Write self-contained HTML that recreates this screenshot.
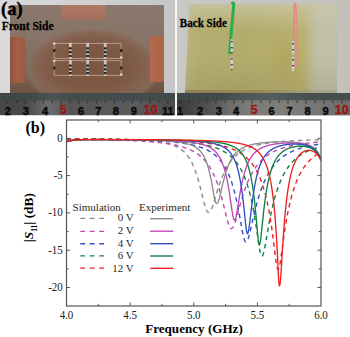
<!DOCTYPE html>
<html><head><meta charset="utf-8">
<style>
*{margin:0;padding:0;box-sizing:border-box}
html,body{width:350px;height:337px;overflow:hidden;background:#fff}
body{position:relative;font-family:"Liberation Serif",serif}
.abs{position:absolute}
.ph{position:absolute;overflow:hidden}
.rd{position:absolute;font-family:"Liberation Sans",sans-serif;font-weight:bold;font-size:11px;color:#0c0c0c;transform:translateX(-50%);line-height:1;-webkit-text-stroke:0.5px #0c0c0c}
.rd.r{color:#981616;-webkit-text-stroke:0.4px #981616}
</style></head>
<body>
<!-- LEFT PHOTO -->
<div class="ph" style="left:0;top:0;width:175px;height:116px;background:linear-gradient(90deg,#dadada 0%,#d2d2d2 40%,#c6c6c6 100%)">
  <div class="abs" style="left:9.5px;top:4.5px;width:154px;height:89.5px;background:radial-gradient(ellipse 70px 42px at 82px 62px,#7c5640 0%,#7e5842 50%,#846250 78%,rgba(140,116,100,0.6) 92%,rgba(130,114,104,0) 100%),linear-gradient(180deg,#8a786c 0%,#86746a 40%,#7a665a 70%,#6a5240 100%)"></div>
  <div class="abs" style="left:61px;top:5px;width:45px;height:15px;background:linear-gradient(180deg,#ae7866 0%,#aa7462 45%,#a46e5c 100%)"></div>
  <div class="abs" style="left:9.5px;top:37.2px;width:15.4px;height:46.3px;background:linear-gradient(90deg,#92523e 0%,#a05c44 30%,#a45e46 60%,#9c5a44 100%)"></div>
  <div class="abs" style="left:149.5px;top:36px;width:14.5px;height:45.5px;background:linear-gradient(90deg,#b06a50 0%,#b06848 40%,#aa6446 100%)"></div>
  <svg class="abs" style="left:0;top:0" width="175" height="116">
<g fill="none" stroke="#bca096" stroke-width="0.9">
<path d="M54.2 43.4H121.2"/>
<path d="M54.2 58.4H121.2"/>
<path d="M54.2 60.6H121.2"/>
<path d="M54.2 75.4H121.2"/>
<path d="M54.2 43.4V58.4"/>
<path d="M121.2 43.4V58.4"/>
<path d="M54.2 60.6V75.4"/>
<path d="M121.2 60.6V75.4"/>
</g>
<path d="M70.4 42.8V59.0" stroke="#cfc4c0" stroke-width="2.8" fill="none"/>
<path d="M70.4 42.8V59.0" stroke="#262626" stroke-width="2.8" fill="none" stroke-dasharray="0 4.5 2.2 1.6 2.2 1.6 2.2 20"/>
<path d="M87.7 42.8V59.0" stroke="#cfc4c0" stroke-width="2.8" fill="none"/>
<path d="M87.7 42.8V59.0" stroke="#262626" stroke-width="2.8" fill="none" stroke-dasharray="0 4.5 2.2 1.6 2.2 1.6 2.2 20"/>
<path d="M105.2 42.8V59.0" stroke="#cfc4c0" stroke-width="2.8" fill="none"/>
<path d="M105.2 42.8V59.0" stroke="#262626" stroke-width="2.8" fill="none" stroke-dasharray="0 4.5 2.2 1.6 2.2 1.6 2.2 20"/>
<path d="M70.4 60.0V76.0" stroke="#cfc4c0" stroke-width="2.8" fill="none"/>
<path d="M70.4 60.0V76.0" stroke="#262626" stroke-width="2.8" fill="none" stroke-dasharray="0 4.5 2.2 1.6 2.2 1.6 2.2 20"/>
<path d="M87.7 60.0V76.0" stroke="#cfc4c0" stroke-width="2.8" fill="none"/>
<path d="M87.7 60.0V76.0" stroke="#262626" stroke-width="2.8" fill="none" stroke-dasharray="0 4.5 2.2 1.6 2.2 1.6 2.2 20"/>
<path d="M105.2 60.0V76.0" stroke="#cfc4c0" stroke-width="2.8" fill="none"/>
<path d="M105.2 60.0V76.0" stroke="#262626" stroke-width="2.8" fill="none" stroke-dasharray="0 4.5 2.2 1.6 2.2 1.6 2.2 20"/>
<g fill="#262626">
<rect x="53.0" y="49.0" width="2.4" height="3" rx="0.6"/>
<rect x="53.0" y="66.5" width="2.4" height="3" rx="0.6"/>
<rect x="120.0" y="49.0" width="2.4" height="3" rx="0.6"/>
<rect x="120.0" y="66.5" width="2.4" height="3" rx="0.6"/>
</g><g fill="#e0dada">
<rect x="119.9" y="56.4" width="2.6" height="2" rx="0.6"/>
<rect x="119.9" y="73.6" width="2.6" height="2" rx="0.6"/>
<rect x="52.9" y="42.6" width="2.6" height="2" rx="0.6"/>
<rect x="52.9" y="59.8" width="2.6" height="2" rx="0.6"/>
</g></svg>
  <!-- ruler -->
  <div class="abs" style="left:0;top:93.4px;width:175px;height:6.8px;background:linear-gradient(90deg,#3a4244 0%,#3e4648 20%,#4a5254 30%,#42494b 40%,#404749 100%)"></div>
  <div class="abs" style="left:0;top:93.5px;width:175px;height:8.5px;background:repeating-linear-gradient(90deg,rgba(110,110,110,.18) 0 0.8px,rgba(0,0,0,0) 0.8px 1.78px)"></div>
  <div class="abs" style="left:0;top:100.2px;width:175px;height:15.3px;background:linear-gradient(90deg,#464646 0%,#4a4a4a 15%,#5e5e5e 22%,#6c6c6c 27%,#626262 33%,#565656 40%,#585858 55%,#5a5c5e 75%,#525252 90%,#4c4c4c 100%)"></div>
<svg class="abs" style="left:0;top:0" width="175" height="116"><path d="M0.58 100.2V101.4 M2.36 100.2V101.4 M4.14 100.2V101.4 M5.92 100.2V101.4 M9.48 100.2V101.4 M11.26 100.2V101.4 M13.04 100.2V101.4 M14.82 100.2V101.4 M18.38 100.2V101.4 M20.16 100.2V101.4 M21.94 100.2V101.4 M23.72 100.2V101.4 M27.28 100.2V101.4 M29.06 100.2V101.4 M30.84 100.2V101.4 M32.62 100.2V101.4 M36.18 100.2V101.4 M37.96 100.2V101.4 M39.74 100.2V101.4 M41.52 100.2V101.4 M45.08 100.2V101.4 M46.86 100.2V101.4 M48.64 100.2V101.4 M50.42 100.2V101.4 M53.98 100.2V101.4 M55.76 100.2V101.4 M57.54 100.2V101.4 M59.32 100.2V101.4 M62.88 100.2V101.4 M64.66 100.2V101.4 M66.44 100.2V101.4 M68.22 100.2V101.4 M71.78 100.2V101.4 M73.56 100.2V101.4 M75.34 100.2V101.4 M77.12 100.2V101.4 M80.68 100.2V101.4 M82.46 100.2V101.4 M84.24 100.2V101.4 M86.02 100.2V101.4 M89.58 100.2V101.4 M91.36 100.2V101.4 M93.14 100.2V101.4 M94.92 100.2V101.4 M98.48 100.2V101.4 M100.26 100.2V101.4 M102.04 100.2V101.4 M103.82 100.2V101.4 M107.38 100.2V101.4 M109.16 100.2V101.4 M110.94 100.2V101.4 M112.72 100.2V101.4 M116.28 100.2V101.4 M118.06 100.2V101.4 M119.84 100.2V101.4 M121.62 100.2V101.4 M125.18 100.2V101.4 M126.96 100.2V101.4 M128.74 100.2V101.4 M130.52 100.2V101.4 M134.08 100.2V101.4 M135.86 100.2V101.4 M137.64 100.2V101.4 M139.42 100.2V101.4 M142.98 100.2V101.4 M144.76 100.2V101.4 M146.54 100.2V101.4 M148.32 100.2V101.4 M151.88 100.2V101.4 M153.66 100.2V101.4 M155.44 100.2V101.4 M157.22 100.2V101.4 M160.78 100.2V101.4 M162.56 100.2V101.4 M164.34 100.2V101.4 M166.12 100.2V101.4 M169.68 100.2V101.4 M171.46 100.2V101.4 M173.24 100.2V101.4 M175.02 100.2V101.4" stroke="rgba(40,40,40,.35)" stroke-width="0.6"/><path d="M7.70 100.2V103.6 M16.60 100.2V103 M25.50 100.2V103.6 M34.40 100.2V103 M43.30 100.2V103.6 M52.20 100.2V103 M61.10 100.2V103.6 M70.00 100.2V103 M78.90 100.2V103.6 M87.80 100.2V103 M96.70 100.2V103.6 M105.60 100.2V103 M114.50 100.2V103.6 M123.40 100.2V103 M132.30 100.2V103.6 M141.20 100.2V103 M150.10 100.2V103.6 M159.00 100.2V103 M167.90 100.2V103.6" stroke="#2a2a2a" stroke-width="0.9"/></svg>
  <div class="rd" style="left:7.7px;top:105.7px">2</div>
  <div class="rd" style="left:25.7px;top:105.7px">3</div>
  <div class="rd" style="left:45px;top:105.7px">4</div>
  <div class="rd r" style="left:63px;top:104.1px;font-size:12.5px">5</div>
  <div class="rd" style="left:81px;top:105.7px">6</div>
  <div class="rd" style="left:98.4px;top:105.7px">7</div>
  <div class="rd" style="left:115.8px;top:105.7px">8</div>
  <div class="rd" style="left:133.8px;top:105.7px">9</div>
  <div class="rd r" style="left:150.5px;top:104.1px;font-size:12.5px">10</div>
  <div class="rd" style="left:167.8px;top:105.7px">11</div>
  <div class="abs" style="left:1.0px;top:0px;font-weight:bold;font-size:18.5px;line-height:1;color:#000;-webkit-text-stroke:0.45px #000">(a)</div>
  <div class="abs" style="left:1.7px;top:20.6px;font-weight:bold;font-size:11.5px;line-height:1;color:#000;-webkit-text-stroke:0.25px #000;transform:scaleY(1.1);transform-origin:0 10.25px">Front Side</div>
</div>
<div class="abs" style="left:175px;top:0;width:2px;height:116px;background:#f4f4f4"></div>
<!-- RIGHT PHOTO -->
<div class="ph" style="left:177px;top:0;width:173px;height:116px;background:linear-gradient(90deg,#c8c8c4 0%,#c4c4c0 50%,#c4c0bc 100%)">
  <div class="abs" style="left:8px;top:3.5px;width:152px;height:88.5px;clip-path:polygon(4.5px 0,100% 0.5px,100% 100%,0 100%);background:linear-gradient(180deg,rgba(204,200,172,.75) 0%,rgba(204,200,172,.35) 15%,rgba(204,200,172,0) 30%,rgba(0,0,0,0) 60%,rgba(50,40,10,.10) 100%),radial-gradient(ellipse 22px 30px at 100px 56px,rgba(176,164,92,.8) 0%,rgba(176,164,92,0) 100%),linear-gradient(90deg,#bcb47e 0%,#b4ae70 8%,#b2ac6c 40%,#b6ae6e 55%,#bab270 78%,#bebca0 85%,#c2c0a8 90%,#c0bea8 100%)"></div>
  <div class="abs" style="left:8px;top:90px;width:152px;height:3.5px;background:linear-gradient(90deg,#8c8050,#968a58 50%,#a8a488 90%)"></div>
  <svg class="abs" style="left:0;top:0" width="173" height="116">
    <path d="M55.4 3.2 C56.6 2.6 57.2 3.6 56.6 6 C55.6 18 54 34 52.6 53" stroke="#2eae48" stroke-width="3" fill="none" stroke-linecap="round"/>
    <path d="M117.6 3.5 C117 18 116.6 32 116.6 44" stroke="#e48686" stroke-width="1.5" fill="none" stroke-linecap="round"/>
    <path d="M118.6 3.5 C119.6 18 120 36 119.6 54 C119.4 60 119.3 64 119.2 67" stroke="#e88a8a" stroke-width="1.6" fill="none" stroke-linecap="round"/>
    <g fill="#cfcfc8">
      <rect x="53.6" y="39" width="2.4" height="14.5" rx="1"/><rect x="53.6" y="57" width="2.4" height="13.2" rx="1"/>
      <rect x="114.8" y="41" width="2.4" height="13.6" rx="1"/><rect x="114.8" y="57" width="2.4" height="14.3" rx="1"/>
    </g>
    <g fill="#484844">
      <rect x="53.8" y="41" width="2" height="1.4"/><rect x="53.8" y="47" width="2" height="1.4"/><rect x="53.8" y="52" width="2" height="1.4"/>
      <rect x="53.8" y="58" width="2" height="1.4"/><rect x="53.8" y="64" width="2" height="1.4"/><rect x="53.8" y="69" width="2" height="1.2"/>
      <rect x="115" y="43" width="2" height="1.4"/><rect x="115" y="49" width="2" height="1.4"/>
      <rect x="115" y="59" width="2" height="1.4"/><rect x="115" y="65" width="2" height="1.4"/>
    </g>
  </svg>
  <div class="abs" style="left:0;top:93.4px;width:173px;height:6.8px;background:linear-gradient(90deg,#3a4244 0%,#40474a 25%,#4e5557 40%,#525a5a 55%,#464d4f 75%,#42494b 100%)"></div>
  <div class="abs" style="left:0;top:93.5px;width:173px;height:8.5px;background:repeating-linear-gradient(90deg,rgba(110,110,110,.18) 0 0.8px,rgba(0,0,0,0) 0.8px 1.8px)"></div>
  <div class="abs" style="left:0;top:100.2px;width:173px;height:15.3px;background:linear-gradient(90deg,#3e3e3e 0%,#444444 8%,#545454 20%,#6c6c6a 30%,#7a7a78 40%,#807e7a 55%,#7a7a78 72%,#727270 88%,#6c6c6a 100%)"></div>
<svg class="abs" style="left:0;top:0" width="173" height="116"><path d="M-0.60 100.2V101.4 M1.20 100.2V101.4 M4.80 100.2V101.4 M6.60 100.2V101.4 M8.40 100.2V101.4 M10.20 100.2V101.4 M13.80 100.2V101.4 M15.60 100.2V101.4 M17.40 100.2V101.4 M19.20 100.2V101.4 M22.80 100.2V101.4 M24.60 100.2V101.4 M26.40 100.2V101.4 M28.20 100.2V101.4 M31.80 100.2V101.4 M33.60 100.2V101.4 M35.40 100.2V101.4 M37.20 100.2V101.4 M40.80 100.2V101.4 M42.60 100.2V101.4 M44.40 100.2V101.4 M46.20 100.2V101.4 M49.80 100.2V101.4 M51.60 100.2V101.4 M53.40 100.2V101.4 M55.20 100.2V101.4 M58.80 100.2V101.4 M60.60 100.2V101.4 M62.40 100.2V101.4 M64.20 100.2V101.4 M67.80 100.2V101.4 M69.60 100.2V101.4 M71.40 100.2V101.4 M73.20 100.2V101.4 M76.80 100.2V101.4 M78.60 100.2V101.4 M80.40 100.2V101.4 M82.20 100.2V101.4 M85.80 100.2V101.4 M87.60 100.2V101.4 M89.40 100.2V101.4 M91.20 100.2V101.4 M94.80 100.2V101.4 M96.60 100.2V101.4 M98.40 100.2V101.4 M100.20 100.2V101.4 M103.80 100.2V101.4 M105.60 100.2V101.4 M107.40 100.2V101.4 M109.20 100.2V101.4 M112.80 100.2V101.4 M114.60 100.2V101.4 M116.40 100.2V101.4 M118.20 100.2V101.4 M121.80 100.2V101.4 M123.60 100.2V101.4 M125.40 100.2V101.4 M127.20 100.2V101.4 M130.80 100.2V101.4 M132.60 100.2V101.4 M134.40 100.2V101.4 M136.20 100.2V101.4 M139.80 100.2V101.4 M141.60 100.2V101.4 M143.40 100.2V101.4 M145.20 100.2V101.4 M148.80 100.2V101.4 M150.60 100.2V101.4 M152.40 100.2V101.4 M154.20 100.2V101.4 M157.80 100.2V101.4 M159.60 100.2V101.4 M161.40 100.2V101.4 M163.20 100.2V101.4 M166.80 100.2V101.4 M168.60 100.2V101.4 M170.40 100.2V101.4 M172.20 100.2V101.4" stroke="rgba(40,40,40,.35)" stroke-width="0.6"/><path d="M3.00 100.2V103.6 M12.00 100.2V103 M21.00 100.2V103.6 M30.00 100.2V103 M39.00 100.2V103.6 M48.00 100.2V103 M57.00 100.2V103.6 M66.00 100.2V103 M75.00 100.2V103.6 M84.00 100.2V103 M93.00 100.2V103.6 M102.00 100.2V103 M111.00 100.2V103.6 M120.00 100.2V103 M129.00 100.2V103.6 M138.00 100.2V103 M147.00 100.2V103.6 M156.00 100.2V103 M165.00 100.2V103.6 M174.00 100.2V103" stroke="#2a2a2a" stroke-width="0.9"/></svg>
  <div class="rd" style="left:3px;top:105.7px">1</div>
  <div class="rd" style="left:23px;top:105.7px">2</div>
  <div class="rd" style="left:41.7px;top:105.7px">3</div>
  <div class="rd" style="left:59px;top:105.7px">4</div>
  <div class="rd r" style="left:77px;top:104.1px;font-size:12.5px">5</div>
  <div class="rd" style="left:94.6px;top:105.7px">6</div>
  <div class="rd" style="left:112.6px;top:105.7px">7</div>
  <div class="rd" style="left:130.6px;top:105.7px">8</div>
  <div class="rd" style="left:148.5px;top:105.7px">9</div>
  <div class="rd r" style="left:164.7px;top:104.1px;font-size:12.5px">10</div>
  <div class="abs" style="left:2.8px;top:18.4px;font-weight:bold;font-size:11.1px;line-height:1;color:#000;-webkit-text-stroke:0.25px #000;transform:scaleY(1.1);transform-origin:0 9.9px">Back Side</div>
</div>
<div class="abs" style="left:0;top:115.5px;width:350px;height:1px;background:#fff"></div>
<!-- CHART -->
<svg class="abs" style="left:0;top:0" width="350" height="337" viewBox="0 0 350 337">
<g font-family="Liberation Serif" fill="#000">
  <text x="25.5" y="132.7" font-size="16" font-weight="bold">(b)</text>
</g>
<g clip-path="url(#clip)">
<path d="M66.50 138.67 L66.82 138.68 L67.14 138.68 L67.45 138.68 L67.77 138.68 L68.09 138.68 L68.41 138.69 L68.73 138.69 L69.04 138.69 L69.36 138.69 L69.68 138.69 L70.00 138.70 L70.32 138.70 L70.64 138.70 L70.95 138.70 L71.27 138.70 L71.59 138.71 L71.91 138.71 L72.23 138.71 L72.54 138.71 L72.86 138.71 L73.18 138.72 L73.50 138.72 L73.82 138.72 L74.13 138.72 L74.45 138.73 L74.77 138.73 L75.09 138.73 L75.41 138.73 L75.73 138.73 L76.04 138.74 L76.36 138.74 L76.68 138.74 L77.00 138.74 L77.32 138.75 L77.63 138.75 L77.95 138.75 L78.27 138.75 L78.59 138.76 L78.91 138.76 L79.22 138.76 L79.54 138.76 L79.86 138.77 L80.18 138.77 L80.50 138.77 L80.82 138.77 L81.13 138.78 L81.45 138.78 L81.77 138.78 L82.09 138.78 L82.41 138.79 L82.72 138.79 L83.04 138.79 L83.36 138.79 L83.68 138.80 L84.00 138.80 L84.31 138.80 L84.63 138.80 L84.95 138.81 L85.27 138.81 L85.59 138.81 L85.91 138.82 L86.22 138.82 L86.54 138.82 L86.86 138.83 L87.18 138.83 L87.50 138.83 L87.81 138.83 L88.13 138.84 L88.45 138.84 L88.77 138.84 L89.09 138.85 L89.40 138.85 L89.72 138.85 L90.04 138.86 L90.36 138.86 L90.68 138.86 L91.00 138.87 L91.31 138.87 L91.63 138.87 L91.95 138.88 L92.27 138.88 L92.59 138.88 L92.90 138.89 L93.22 138.89 L93.54 138.89 L93.86 138.90 L94.18 138.90 L94.49 138.90 L94.81 138.91 L95.13 138.91 L95.45 138.92 L95.77 138.92 L96.09 138.92 L96.40 138.93 L96.72 138.93 L97.04 138.94 L97.36 138.94 L97.68 138.94 L97.99 138.95 L98.31 138.95 L98.63 138.96 L98.95 138.96 L99.27 138.96 L99.58 138.97 L99.90 138.97 L100.22 138.98 L100.54 138.98 L100.86 138.99 L101.18 138.99 L101.49 138.99 L101.81 139.00 L102.13 139.00 L102.45 139.01 L102.77 139.01 L103.08 139.02 L103.40 139.02 L103.72 139.03 L104.04 139.03 L104.36 139.04 L104.67 139.04 L104.99 139.05 L105.31 139.05 L105.63 139.06 L105.95 139.06 L106.27 139.07 L106.58 139.07 L106.90 139.08 L107.22 139.08 L107.54 139.09 L107.86 139.09 L108.17 139.10 L108.49 139.10 L108.81 139.11 L109.13 139.11 L109.45 139.12 L109.76 139.13 L110.08 139.13 L110.40 139.14 L110.72 139.14 L111.04 139.15 L111.36 139.16 L111.67 139.16 L111.99 139.17 L112.31 139.17 L112.63 139.18 L112.95 139.19 L113.26 139.19 L113.58 139.20 L113.90 139.21 L114.22 139.21 L114.54 139.22 L114.85 139.23 L115.17 139.23 L115.49 139.24 L115.81 139.25 L116.13 139.25 L116.45 139.26 L116.76 139.27 L117.08 139.28 L117.40 139.28 L117.72 139.29 L118.04 139.30 L118.35 139.31 L118.67 139.31 L118.99 139.32 L119.31 139.33 L119.63 139.34 L119.94 139.34 L120.26 139.35 L120.58 139.36 L120.90 139.37 L121.22 139.38 L121.54 139.39 L121.85 139.39 L122.17 139.40 L122.49 139.41 L122.81 139.42 L123.13 139.43 L123.44 139.44 L123.76 139.45 L124.08 139.46 L124.40 139.47 L124.72 139.48 L125.03 139.49 L125.35 139.50 L125.67 139.51 L125.99 139.52 L126.31 139.53 L126.63 139.54 L126.94 139.55 L127.26 139.56 L127.58 139.57 L127.90 139.58 L128.22 139.59 L128.53 139.60 L128.85 139.61 L129.17 139.62 L129.49 139.63 L129.81 139.65 L130.12 139.66 L130.44 139.67 L130.76 139.68 L131.08 139.69 L131.40 139.71 L131.72 139.72 L132.03 139.73 L132.35 139.74 L132.67 139.76 L132.99 139.77 L133.31 139.78 L133.62 139.80 L133.94 139.81 L134.26 139.82 L134.58 139.84 L134.90 139.85 L135.22 139.87 L135.53 139.88 L135.85 139.90 L136.17 139.91 L136.49 139.93 L136.81 139.94 L137.12 139.96 L137.44 139.97 L137.76 139.99 L138.08 140.01 L138.40 140.02 L138.71 140.04 L139.03 140.06 L139.35 140.07 L139.67 140.09 L139.99 140.11 L140.31 140.13 L140.62 140.14 L140.94 140.16 L141.26 140.18 L141.58 140.20 L141.90 140.22 L142.21 140.24 L142.53 140.26 L142.85 140.28 L143.17 140.30 L143.49 140.32 L143.80 140.34 L144.12 140.36 L144.44 140.38 L144.76 140.41 L145.08 140.43 L145.40 140.45 L145.71 140.48 L146.03 140.50 L146.35 140.52 L146.67 140.55 L146.99 140.57 L147.30 140.60 L147.62 140.62 L147.94 140.65 L148.26 140.67 L148.58 140.70 L148.89 140.73 L149.21 140.75 L149.53 140.78 L149.85 140.81 L150.17 140.84 L150.49 140.87 L150.80 140.90 L151.12 140.93 L151.44 140.96 L151.76 140.99 L152.08 141.02 L152.39 141.05 L152.71 141.09 L153.03 141.12 L153.35 141.15 L153.67 141.19 L153.98 141.22 L154.30 141.26 L154.62 141.29 L154.94 141.33 L155.26 141.37 L155.58 141.41 L155.89 141.45 L156.21 141.49 L156.53 141.53 L156.85 141.57 L157.17 141.61 L157.48 141.65 L157.80 141.70 L158.12 141.74 L158.44 141.79 L158.76 141.83 L159.07 141.88 L159.39 141.93 L159.71 141.97 L160.03 142.02 L160.35 142.07 L160.67 142.13 L160.98 142.18 L161.30 142.23 L161.62 142.29 L161.94 142.34 L162.26 142.40 L162.57 142.46 L162.89 142.51 L163.21 142.57 L163.53 142.64 L163.85 142.70 L164.16 142.76 L164.48 142.83 L164.80 142.89 L165.12 142.96 L165.44 143.03 L165.76 143.10 L166.07 143.17 L166.39 143.25 L166.71 143.32 L167.03 143.40 L167.35 143.48 L167.66 143.56 L167.98 143.64 L168.30 143.73 L168.62 143.81 L168.94 143.90 L169.25 143.99 L169.57 144.08 L169.89 144.17 L170.21 144.27 L170.53 144.37 L170.85 144.47 L171.16 144.57 L171.48 144.68 L171.80 144.78 L172.12 144.89 L172.44 145.01 L172.75 145.12 L173.07 145.24 L173.39 145.36 L173.71 145.49 L174.03 145.61 L174.34 145.74 L174.66 145.88 L174.98 146.01 L175.30 146.15 L175.62 146.30 L175.94 146.44 L176.25 146.60 L176.57 146.75 L176.89 146.91 L177.21 147.07 L177.53 147.24 L177.84 147.41 L178.16 147.59 L178.48 147.77 L178.80 147.95 L179.12 148.14 L179.43 148.34 L179.75 148.54 L180.07 148.75 L180.39 148.96 L180.71 149.18 L181.03 149.40 L181.34 149.63 L181.66 149.87 L181.98 150.11 L182.30 150.36 L182.62 150.62 L182.93 150.89 L183.25 151.16 L183.57 151.44 L183.89 151.73 L184.21 152.02 L184.52 152.33 L184.84 152.65 L185.16 152.97 L185.48 153.30 L185.80 153.65 L186.11 154.00 L186.43 154.37 L186.75 154.74 L187.07 155.13 L187.39 155.53 L187.71 155.94 L188.02 156.36 L188.34 156.80 L188.66 157.25 L188.98 157.72 L189.30 158.19 L189.61 158.69 L189.93 159.20 L190.25 159.72 L190.57 160.26 L190.89 160.82 L191.21 161.40 L191.52 161.99 L191.84 162.61 L192.16 163.24 L192.48 163.89 L192.80 164.56 L193.11 165.26 L193.43 165.97 L193.75 166.71 L194.07 167.47 L194.39 168.25 L194.70 169.06 L195.02 169.89 L195.34 170.74 L195.66 171.62 L195.98 172.53 L196.29 173.46 L196.61 174.43 L196.93 175.41 L197.25 176.43 L197.57 177.47 L197.89 178.54 L198.20 179.63 L198.52 180.75 L198.84 181.90 L199.16 183.08 L199.48 184.28 L199.79 185.50 L200.11 186.74 L200.43 188.01 L200.75 189.29 L201.07 190.59 L201.39 191.91 L201.70 193.23 L202.02 194.56 L202.34 195.89 L202.66 197.21 L202.98 198.53 L203.29 199.83 L203.61 201.10 L203.93 202.35 L204.25 203.56 L204.57 204.72 L204.88 205.83 L205.20 206.87 L205.52 207.85 L205.84 208.74 L206.16 209.54 L206.47 210.25 L206.79 210.86 L207.11 211.37 L207.43 211.77 L207.75 212.07 L208.07 212.26 L208.38 212.36 L208.70 212.38 L209.02 212.31 L209.34 212.16 L209.66 211.91 L209.97 211.58 L210.29 211.17 L210.61 210.68 L210.93 210.11 L211.25 209.47 L211.56 208.77 L211.88 208.01 L212.20 207.20 L212.52 206.34 L212.84 205.44 L213.16 204.50 L213.47 203.53 L213.79 202.53 L214.11 201.52 L214.43 200.49 L214.75 199.44 L215.06 198.39 L215.38 197.33 L215.70 196.27 L216.02 195.21 L216.34 194.16 L216.65 193.11 L216.97 192.06 L217.29 191.03 L217.61 190.01 L217.93 189.00 L218.25 188.00 L218.56 187.02 L218.88 186.05 L219.20 185.10 L219.52 184.16 L219.84 183.24 L220.15 182.33 L220.47 181.45 L220.79 180.58 L221.11 179.73 L221.43 178.89 L221.74 178.08 L222.06 177.28 L222.38 176.49 L222.70 175.73 L223.02 174.98 L223.34 174.25 L223.65 173.53 L223.97 172.83 L224.29 172.15 L224.61 171.48 L224.93 170.83 L225.24 170.19 L225.56 169.57 L225.88 168.96 L226.20 168.37 L226.52 167.79 L226.83 167.22 L227.15 166.67 L227.47 166.13 L227.79 165.60 L228.11 165.08 L228.43 164.58 L228.74 164.09 L229.06 163.61 L229.38 163.14 L229.70 162.68 L230.02 162.24 L230.33 161.80 L230.65 161.38 L230.97 160.96 L231.29 160.55 L231.61 160.16 L231.92 159.77 L232.24 159.39 L232.56 159.02 L232.88 158.66 L233.20 158.30 L233.52 157.96 L233.83 157.62 L234.15 157.29 L234.47 156.97 L234.79 156.65 L235.11 156.35 L235.42 156.04 L235.74 155.75 L236.06 155.46 L236.38 155.18 L236.70 154.91 L237.01 154.64 L237.33 154.37 L237.65 154.11 L237.97 153.86 L238.29 153.62 L238.61 153.37 L238.92 153.14 L239.24 152.91 L239.56 152.68 L239.88 152.46 L240.20 152.24 L240.51 152.03 L240.83 151.82 L241.15 151.62 L241.47 151.42 L241.79 151.22 L242.10 151.03 L242.42 150.85 L242.74 150.66 L243.06 150.48 L243.38 150.31 L243.70 150.13 L244.01 149.96 L244.33 149.80 L244.65 149.64 L244.97 149.48 L245.29 149.32 L245.60 149.17 L245.92 149.02 L246.24 148.87 L246.56 148.72 L246.88 148.58 L247.19 148.44 L247.51 148.31 L247.83 148.17 L248.15 148.04 L248.47 147.91 L248.79 147.79 L249.10 147.66 L249.42 147.54 L249.74 147.42 L250.06 147.30 L250.38 147.19 L250.69 147.08 L251.01 146.96 L251.33 146.85 L251.65 146.75 L251.97 146.64 L252.28 146.54 L252.60 146.44 L252.92 146.34 L253.24 146.24 L253.56 146.14 L253.88 146.05 L254.19 145.95 L254.51 145.86 L254.83 145.77 L255.15 145.68 L255.47 145.60 L255.78 145.51 L256.10 145.43 L256.42 145.35 L256.74 145.26 L257.06 145.18 L257.38 145.11 L257.69 145.03 L258.01 144.95 L258.33 144.88 L258.65 144.80 L258.97 144.73 L259.28 144.66 L259.60 144.59 L259.92 144.52 L260.24 144.45 L260.56 144.39 L260.87 144.32 L261.19 144.25 L261.51 144.19 L261.83 144.13 L262.15 144.07 L262.47 144.01 L262.78 143.95 L263.10 143.89 L263.42 143.83 L263.74 143.77 L264.06 143.71 L264.37 143.66 L264.69 143.60 L265.01 143.55 L265.33 143.50 L265.65 143.44 L265.96 143.39 L266.28 143.34 L266.60 143.29 L266.92 143.24 L267.24 143.19 L267.56 143.14 L267.87 143.10 L268.19 143.05 L268.51 143.00 L268.83 142.96 L269.15 142.91 L269.46 142.87 L269.78 142.83 L270.10 142.78 L270.42 142.74 L270.74 142.70 L271.05 142.66 L271.37 142.62 L271.69 142.58 L272.01 142.54 L272.33 142.50 L272.64 142.46 L272.96 142.42 L273.28 142.39 L273.60 142.35 L273.92 142.31 L274.24 142.28 L274.55 142.24 L274.87 142.21 L275.19 142.17 L275.51 142.14 L275.83 142.10 L276.14 142.07 L276.46 142.04 L276.78 142.00 L277.10 141.97 L277.42 141.94 L277.74 141.91 L278.05 141.88 L278.37 141.85 L278.69 141.82 L279.01 141.79 L279.33 141.76 L279.64 141.73 L279.96 141.70 L280.28 141.67 L280.60 141.65 L280.92 141.62 L281.23 141.59 L281.55 141.56 L281.87 141.54 L282.19 141.51 L282.51 141.48 L282.83 141.46 L283.14 141.43 L283.46 141.41 L283.78 141.38 L284.10 141.36 L284.42 141.34 L284.73 141.31 L285.05 141.29 L285.37 141.26 L285.69 141.24 L286.01 141.22 L286.32 141.20 L286.64 141.17 L286.96 141.15 L287.28 141.13 L287.60 141.11 L287.92 141.09 L288.23 141.07 L288.55 141.04 L288.87 141.02 L289.19 141.00 L289.51 140.98 L289.82 140.96 L290.14 140.94 L290.46 140.92 L290.78 140.91 L291.10 140.89 L291.41 140.87 L291.73 140.85 L292.05 140.83 L292.37 140.81 L292.69 140.79 L293.00 140.78 L293.32 140.76 L293.64 140.74 L293.96 140.72 L294.28 140.71 L294.60 140.69 L294.91 140.67 L295.23 140.66 L295.55 140.64 L295.87 140.62 L296.19 140.61 L296.50 140.59 L296.82 140.57 L297.14 140.56 L297.46 140.54 L297.78 140.53 L298.10 140.51 L298.41 140.50 L298.73 140.48 L299.05 140.47 L299.37 140.45 L299.69 140.44 L300.00 140.43 L300.32 140.41 L300.64 140.40 L300.96 140.38 L301.28 140.37 L301.59 140.36 L301.91 140.34 L302.23 140.33 L302.55 140.32 L302.87 140.30 L303.19 140.29 L303.50 140.28 L303.82 140.26 L304.14 140.25 L304.46 140.24 L304.78 140.23 L305.09 140.21 L305.41 140.20 L305.73 140.19 L306.05 140.18 L306.37 140.17 L306.68 140.16 L307.00 140.14 L307.32 140.13 L307.64 140.12 L307.96 140.11 L308.28 140.10 L308.59 140.09 L308.91 140.08 L309.23 140.07 L309.55 140.05 L309.87 140.04 L310.18 140.03 L310.50 140.02 L310.82 140.01 L311.14 140.00 L311.46 139.99 L311.77 139.98 L312.09 139.97 L312.41 139.96 L312.73 139.95 L313.05 139.94 L313.36 139.93 L313.68 139.92 L314.00 139.91 L314.32 139.90 L314.64 139.90 L314.96 139.89 L315.27 139.88 L315.59 139.87 L315.91 139.86 L316.23 139.85 L316.55 139.84 L316.86 139.83 L317.18 139.82 L317.50 139.81 L317.82 139.81 L318.14 139.80 L318.46 139.79 L318.77 139.78 L319.09 139.77 L319.41 139.76 L319.73 139.76 L320.05 139.75 L320.36 139.74 L320.68 139.73 L321.00 139.72" fill="none" stroke="#8c8c8c" stroke-width="1.4" stroke-dasharray="4.5 3.8"/>
<path d="M66.50 139.16 L66.82 139.17 L67.14 139.17 L67.45 139.17 L67.77 139.18 L68.09 139.18 L68.41 139.18 L68.73 139.19 L69.04 139.19 L69.36 139.19 L69.68 139.20 L70.00 139.20 L70.32 139.21 L70.64 139.21 L70.95 139.21 L71.27 139.22 L71.59 139.22 L71.91 139.22 L72.23 139.23 L72.54 139.23 L72.86 139.23 L73.18 139.24 L73.50 139.24 L73.82 139.25 L74.13 139.25 L74.45 139.25 L74.77 139.26 L75.09 139.26 L75.41 139.26 L75.73 139.27 L76.04 139.27 L76.36 139.28 L76.68 139.28 L77.00 139.28 L77.32 139.29 L77.63 139.29 L77.95 139.30 L78.27 139.30 L78.59 139.30 L78.91 139.31 L79.22 139.31 L79.54 139.32 L79.86 139.32 L80.18 139.32 L80.50 139.33 L80.82 139.33 L81.13 139.34 L81.45 139.34 L81.77 139.35 L82.09 139.35 L82.41 139.36 L82.72 139.36 L83.04 139.36 L83.36 139.37 L83.68 139.37 L84.00 139.38 L84.31 139.38 L84.63 139.39 L84.95 139.39 L85.27 139.40 L85.59 139.40 L85.91 139.41 L86.22 139.41 L86.54 139.42 L86.86 139.42 L87.18 139.42 L87.50 139.43 L87.81 139.43 L88.13 139.44 L88.45 139.44 L88.77 139.45 L89.09 139.45 L89.40 139.46 L89.72 139.46 L90.04 139.47 L90.36 139.48 L90.68 139.48 L91.00 139.49 L91.31 139.49 L91.63 139.50 L91.95 139.50 L92.27 139.51 L92.59 139.51 L92.90 139.52 L93.22 139.52 L93.54 139.53 L93.86 139.53 L94.18 139.54 L94.49 139.55 L94.81 139.55 L95.13 139.56 L95.45 139.56 L95.77 139.57 L96.09 139.57 L96.40 139.58 L96.72 139.59 L97.04 139.59 L97.36 139.60 L97.68 139.60 L97.99 139.61 L98.31 139.62 L98.63 139.62 L98.95 139.63 L99.27 139.64 L99.58 139.64 L99.90 139.65 L100.22 139.65 L100.54 139.66 L100.86 139.67 L101.18 139.67 L101.49 139.68 L101.81 139.69 L102.13 139.69 L102.45 139.70 L102.77 139.71 L103.08 139.71 L103.40 139.72 L103.72 139.73 L104.04 139.73 L104.36 139.74 L104.67 139.75 L104.99 139.76 L105.31 139.76 L105.63 139.77 L105.95 139.78 L106.27 139.79 L106.58 139.79 L106.90 139.80 L107.22 139.81 L107.54 139.81 L107.86 139.82 L108.17 139.83 L108.49 139.84 L108.81 139.85 L109.13 139.85 L109.45 139.86 L109.76 139.87 L110.08 139.88 L110.40 139.89 L110.72 139.89 L111.04 139.90 L111.36 139.91 L111.67 139.92 L111.99 139.93 L112.31 139.94 L112.63 139.94 L112.95 139.95 L113.26 139.96 L113.58 139.97 L113.90 139.98 L114.22 139.99 L114.54 140.00 L114.85 140.01 L115.17 140.01 L115.49 140.02 L115.81 140.03 L116.13 140.04 L116.45 140.05 L116.76 140.06 L117.08 140.07 L117.40 140.08 L117.72 140.09 L118.04 140.10 L118.35 140.11 L118.67 140.12 L118.99 140.13 L119.31 140.14 L119.63 140.15 L119.94 140.16 L120.26 140.17 L120.58 140.18 L120.90 140.19 L121.22 140.20 L121.54 140.21 L121.85 140.22 L122.17 140.23 L122.49 140.25 L122.81 140.26 L123.13 140.27 L123.44 140.28 L123.76 140.29 L124.08 140.30 L124.40 140.31 L124.72 140.32 L125.03 140.34 L125.35 140.35 L125.67 140.36 L125.99 140.37 L126.31 140.38 L126.63 140.40 L126.94 140.41 L127.26 140.42 L127.58 140.43 L127.90 140.45 L128.22 140.46 L128.53 140.47 L128.85 140.48 L129.17 140.50 L129.49 140.51 L129.81 140.52 L130.12 140.54 L130.44 140.55 L130.76 140.57 L131.08 140.58 L131.40 140.59 L131.72 140.61 L132.03 140.62 L132.35 140.64 L132.67 140.65 L132.99 140.66 L133.31 140.68 L133.62 140.69 L133.94 140.71 L134.26 140.72 L134.58 140.74 L134.90 140.76 L135.22 140.77 L135.53 140.79 L135.85 140.80 L136.17 140.82 L136.49 140.84 L136.81 140.85 L137.12 140.87 L137.44 140.88 L137.76 140.90 L138.08 140.92 L138.40 140.94 L138.71 140.95 L139.03 140.97 L139.35 140.99 L139.67 141.01 L139.99 141.02 L140.31 141.04 L140.62 141.06 L140.94 141.08 L141.26 141.10 L141.58 141.12 L141.90 141.14 L142.21 141.16 L142.53 141.17 L142.85 141.19 L143.17 141.21 L143.49 141.23 L143.80 141.25 L144.12 141.28 L144.44 141.30 L144.76 141.32 L145.08 141.34 L145.40 141.36 L145.71 141.38 L146.03 141.40 L146.35 141.42 L146.67 141.45 L146.99 141.47 L147.30 141.49 L147.62 141.52 L147.94 141.54 L148.26 141.56 L148.58 141.59 L148.89 141.61 L149.21 141.63 L149.53 141.66 L149.85 141.68 L150.17 141.71 L150.49 141.73 L150.80 141.76 L151.12 141.79 L151.44 141.81 L151.76 141.84 L152.08 141.86 L152.39 141.89 L152.71 141.92 L153.03 141.95 L153.35 141.97 L153.67 142.00 L153.98 142.03 L154.30 142.06 L154.62 142.09 L154.94 142.12 L155.26 142.15 L155.58 142.18 L155.89 142.21 L156.21 142.24 L156.53 142.27 L156.85 142.30 L157.17 142.34 L157.48 142.37 L157.80 142.40 L158.12 142.44 L158.44 142.47 L158.76 142.50 L159.07 142.54 L159.39 142.57 L159.71 142.61 L160.03 142.64 L160.35 142.68 L160.67 142.72 L160.98 142.75 L161.30 142.79 L161.62 142.83 L161.94 142.87 L162.26 142.91 L162.57 142.95 L162.89 142.99 L163.21 143.03 L163.53 143.07 L163.85 143.11 L164.16 143.15 L164.48 143.19 L164.80 143.24 L165.12 143.28 L165.44 143.32 L165.76 143.37 L166.07 143.41 L166.39 143.46 L166.71 143.51 L167.03 143.55 L167.35 143.60 L167.66 143.65 L167.98 143.70 L168.30 143.75 L168.62 143.80 L168.94 143.85 L169.25 143.90 L169.57 143.95 L169.89 144.01 L170.21 144.06 L170.53 144.12 L170.85 144.17 L171.16 144.23 L171.48 144.28 L171.80 144.34 L172.12 144.40 L172.44 144.46 L172.75 144.52 L173.07 144.58 L173.39 144.64 L173.71 144.71 L174.03 144.77 L174.34 144.83 L174.66 144.90 L174.98 144.97 L175.30 145.03 L175.62 145.10 L175.94 145.17 L176.25 145.24 L176.57 145.31 L176.89 145.39 L177.21 145.46 L177.53 145.54 L177.84 145.61 L178.16 145.69 L178.48 145.77 L178.80 145.85 L179.12 145.93 L179.43 146.01 L179.75 146.09 L180.07 146.18 L180.39 146.26 L180.71 146.35 L181.03 146.44 L181.34 146.53 L181.66 146.62 L181.98 146.71 L182.30 146.81 L182.62 146.90 L182.93 147.00 L183.25 147.10 L183.57 147.20 L183.89 147.30 L184.21 147.41 L184.52 147.52 L184.84 147.62 L185.16 147.73 L185.48 147.84 L185.80 147.96 L186.11 148.07 L186.43 148.19 L186.75 148.31 L187.07 148.43 L187.39 148.55 L187.71 148.68 L188.02 148.80 L188.34 148.93 L188.66 149.07 L188.98 149.20 L189.30 149.34 L189.61 149.48 L189.93 149.62 L190.25 149.76 L190.57 149.91 L190.89 150.06 L191.21 150.21 L191.52 150.37 L191.84 150.52 L192.16 150.68 L192.48 150.85 L192.80 151.02 L193.11 151.19 L193.43 151.36 L193.75 151.53 L194.07 151.71 L194.39 151.90 L194.70 152.08 L195.02 152.27 L195.34 152.47 L195.66 152.67 L195.98 152.87 L196.29 153.07 L196.61 153.28 L196.93 153.50 L197.25 153.71 L197.57 153.94 L197.89 154.16 L198.20 154.39 L198.52 154.63 L198.84 154.87 L199.16 155.12 L199.48 155.37 L199.79 155.62 L200.11 155.89 L200.43 156.15 L200.75 156.42 L201.07 156.70 L201.39 156.99 L201.70 157.27 L202.02 157.57 L202.34 157.87 L202.66 158.18 L202.98 158.50 L203.29 158.82 L203.61 159.15 L203.93 159.48 L204.25 159.83 L204.57 160.18 L204.88 160.54 L205.20 160.90 L205.52 161.28 L205.84 161.66 L206.16 162.05 L206.47 162.45 L206.79 162.86 L207.11 163.28 L207.43 163.71 L207.75 164.15 L208.07 164.59 L208.38 165.05 L208.70 165.52 L209.02 166.00 L209.34 166.49 L209.66 166.99 L209.97 167.50 L210.29 168.03 L210.61 168.57 L210.93 169.12 L211.25 169.68 L211.56 170.26 L211.88 170.85 L212.20 171.45 L212.52 172.07 L212.84 172.70 L213.16 173.35 L213.47 174.01 L213.79 174.69 L214.11 175.38 L214.43 176.10 L214.75 176.82 L215.06 177.57 L215.38 178.33 L215.70 179.11 L216.02 179.91 L216.34 180.73 L216.65 181.57 L216.97 182.42 L217.29 183.30 L217.61 184.20 L217.93 185.12 L218.25 186.05 L218.56 187.01 L218.88 187.99 L219.20 189.00 L219.52 190.02 L219.84 191.07 L220.15 192.14 L220.47 193.23 L220.79 194.34 L221.11 195.47 L221.43 196.63 L221.74 197.80 L222.06 199.00 L222.38 200.22 L222.70 201.45 L223.02 202.70 L223.34 203.97 L223.65 205.25 L223.97 206.55 L224.29 207.85 L224.61 209.17 L224.93 210.48 L225.24 211.80 L225.56 213.11 L225.88 214.42 L226.20 215.71 L226.52 216.99 L226.83 218.23 L227.15 219.45 L227.47 220.62 L227.79 221.75 L228.11 222.82 L228.43 223.83 L228.74 224.76 L229.06 225.61 L229.38 226.36 L229.70 227.02 L230.02 227.57 L230.33 228.00 L230.65 228.31 L230.97 228.50 L231.29 228.57 L231.61 228.52 L231.92 228.37 L232.24 228.13 L232.56 227.79 L232.88 227.36 L233.20 226.84 L233.52 226.25 L233.83 225.57 L234.15 224.83 L234.47 224.02 L234.79 223.15 L235.11 222.23 L235.42 221.26 L235.74 220.25 L236.06 219.21 L236.38 218.13 L236.70 217.04 L237.01 215.92 L237.33 214.78 L237.65 213.64 L237.97 212.48 L238.29 211.33 L238.61 210.17 L238.92 209.01 L239.24 207.85 L239.56 206.70 L239.88 205.56 L240.20 204.43 L240.51 203.31 L240.83 202.20 L241.15 201.10 L241.47 200.02 L241.79 198.95 L242.10 197.90 L242.42 196.86 L242.74 195.84 L243.06 194.83 L243.38 193.85 L243.70 192.87 L244.01 191.92 L244.33 190.98 L244.65 190.06 L244.97 189.16 L245.29 188.27 L245.60 187.40 L245.92 186.55 L246.24 185.71 L246.56 184.89 L246.88 184.09 L247.19 183.30 L247.51 182.53 L247.83 181.77 L248.15 181.03 L248.47 180.30 L248.79 179.59 L249.10 178.89 L249.42 178.21 L249.74 177.54 L250.06 176.88 L250.38 176.24 L250.69 175.61 L251.01 174.99 L251.33 174.39 L251.65 173.80 L251.97 173.22 L252.28 172.65 L252.60 172.09 L252.92 171.55 L253.24 171.01 L253.56 170.49 L253.88 169.98 L254.19 169.48 L254.51 168.98 L254.83 168.50 L255.15 168.03 L255.47 167.57 L255.78 167.11 L256.10 166.67 L256.42 166.23 L256.74 165.81 L257.06 165.39 L257.38 164.98 L257.69 164.58 L258.01 164.18 L258.33 163.79 L258.65 163.42 L258.97 163.04 L259.28 162.68 L259.60 162.32 L259.92 161.97 L260.24 161.63 L260.56 161.29 L260.87 160.96 L261.19 160.64 L261.51 160.32 L261.83 160.01 L262.15 159.70 L262.47 159.40 L262.78 159.11 L263.10 158.82 L263.42 158.53 L263.74 158.26 L264.06 157.98 L264.37 157.71 L264.69 157.45 L265.01 157.19 L265.33 156.94 L265.65 156.69 L265.96 156.45 L266.28 156.21 L266.60 155.97 L266.92 155.74 L267.24 155.51 L267.56 155.29 L267.87 155.07 L268.19 154.85 L268.51 154.64 L268.83 154.43 L269.15 154.23 L269.46 154.03 L269.78 153.83 L270.10 153.64 L270.42 153.45 L270.74 153.26 L271.05 153.07 L271.37 152.89 L271.69 152.71 L272.01 152.54 L272.33 152.37 L272.64 152.20 L272.96 152.03 L273.28 151.87 L273.60 151.71 L273.92 151.55 L274.24 151.39 L274.55 151.24 L274.87 151.09 L275.19 150.94 L275.51 150.80 L275.83 150.65 L276.14 150.51 L276.46 150.37 L276.78 150.24 L277.10 150.10 L277.42 149.97 L277.74 149.84 L278.05 149.71 L278.37 149.58 L278.69 149.46 L279.01 149.34 L279.33 149.22 L279.64 149.10 L279.96 148.98 L280.28 148.87 L280.60 148.75 L280.92 148.64 L281.23 148.53 L281.55 148.42 L281.87 148.32 L282.19 148.21 L282.51 148.11 L282.83 148.01 L283.14 147.91 L283.46 147.81 L283.78 147.71 L284.10 147.61 L284.42 147.52 L284.73 147.43 L285.05 147.33 L285.37 147.24 L285.69 147.15 L286.01 147.07 L286.32 146.98 L286.64 146.89 L286.96 146.81 L287.28 146.73 L287.60 146.64 L287.92 146.56 L288.23 146.48 L288.55 146.40 L288.87 146.33 L289.19 146.25 L289.51 146.17 L289.82 146.10 L290.14 146.03 L290.46 145.95 L290.78 145.88 L291.10 145.81 L291.41 145.74 L291.73 145.67 L292.05 145.61 L292.37 145.54 L292.69 145.47 L293.00 145.41 L293.32 145.34 L293.64 145.28 L293.96 145.22 L294.28 145.16 L294.60 145.09 L294.91 145.03 L295.23 144.97 L295.55 144.92 L295.87 144.86 L296.19 144.80 L296.50 144.74 L296.82 144.69 L297.14 144.63 L297.46 144.58 L297.78 144.52 L298.10 144.47 L298.41 144.42 L298.73 144.37 L299.05 144.32 L299.37 144.27 L299.69 144.22 L300.00 144.17 L300.32 144.12 L300.64 144.07 L300.96 144.02 L301.28 143.97 L301.59 143.93 L301.91 143.88 L302.23 143.84 L302.55 143.79 L302.87 143.75 L303.19 143.70 L303.50 143.66 L303.82 143.62 L304.14 143.58 L304.46 143.53 L304.78 143.49 L305.09 143.45 L305.41 143.41 L305.73 143.37 L306.05 143.33 L306.37 143.29 L306.68 143.25 L307.00 143.22 L307.32 143.18 L307.64 143.14 L307.96 143.10 L308.28 143.07 L308.59 143.03 L308.91 143.00 L309.23 142.96 L309.55 142.93 L309.87 142.89 L310.18 142.86 L310.50 142.82 L310.82 142.79 L311.14 142.76 L311.46 142.72 L311.77 142.69 L312.09 142.66 L312.41 142.63 L312.73 142.60 L313.05 142.57 L313.36 142.54 L313.68 142.51 L314.00 142.48 L314.32 142.45 L314.64 142.42 L314.96 142.39 L315.27 142.36 L315.59 142.33 L315.91 142.30 L316.23 142.27 L316.55 142.25 L316.86 142.22 L317.18 142.19 L317.50 142.17 L317.82 142.14 L318.14 142.11 L318.46 142.09 L318.77 142.06 L319.09 142.03 L319.41 142.01 L319.73 141.98 L320.05 141.96 L320.36 141.94 L320.68 141.91 L321.00 141.89" fill="none" stroke="#c048b8" stroke-width="1.4" stroke-dasharray="4.5 3.8"/>
<path d="M66.50 138.96 L66.82 138.96 L67.14 138.96 L67.45 138.96 L67.77 138.97 L68.09 138.97 L68.41 138.97 L68.73 138.97 L69.04 138.98 L69.36 138.98 L69.68 138.98 L70.00 138.98 L70.32 138.99 L70.64 138.99 L70.95 138.99 L71.27 138.99 L71.59 139.00 L71.91 139.00 L72.23 139.00 L72.54 139.00 L72.86 139.01 L73.18 139.01 L73.50 139.01 L73.82 139.01 L74.13 139.02 L74.45 139.02 L74.77 139.02 L75.09 139.02 L75.41 139.03 L75.73 139.03 L76.04 139.03 L76.36 139.03 L76.68 139.04 L77.00 139.04 L77.32 139.04 L77.63 139.05 L77.95 139.05 L78.27 139.05 L78.59 139.05 L78.91 139.06 L79.22 139.06 L79.54 139.06 L79.86 139.07 L80.18 139.07 L80.50 139.07 L80.82 139.07 L81.13 139.08 L81.45 139.08 L81.77 139.08 L82.09 139.09 L82.41 139.09 L82.72 139.09 L83.04 139.10 L83.36 139.10 L83.68 139.10 L84.00 139.10 L84.31 139.11 L84.63 139.11 L84.95 139.11 L85.27 139.12 L85.59 139.12 L85.91 139.12 L86.22 139.13 L86.54 139.13 L86.86 139.13 L87.18 139.14 L87.50 139.14 L87.81 139.14 L88.13 139.15 L88.45 139.15 L88.77 139.15 L89.09 139.16 L89.40 139.16 L89.72 139.16 L90.04 139.17 L90.36 139.17 L90.68 139.17 L91.00 139.18 L91.31 139.18 L91.63 139.19 L91.95 139.19 L92.27 139.19 L92.59 139.20 L92.90 139.20 L93.22 139.20 L93.54 139.21 L93.86 139.21 L94.18 139.21 L94.49 139.22 L94.81 139.22 L95.13 139.23 L95.45 139.23 L95.77 139.23 L96.09 139.24 L96.40 139.24 L96.72 139.25 L97.04 139.25 L97.36 139.25 L97.68 139.26 L97.99 139.26 L98.31 139.27 L98.63 139.27 L98.95 139.27 L99.27 139.28 L99.58 139.28 L99.90 139.29 L100.22 139.29 L100.54 139.30 L100.86 139.30 L101.18 139.30 L101.49 139.31 L101.81 139.31 L102.13 139.32 L102.45 139.32 L102.77 139.33 L103.08 139.33 L103.40 139.34 L103.72 139.34 L104.04 139.34 L104.36 139.35 L104.67 139.35 L104.99 139.36 L105.31 139.36 L105.63 139.37 L105.95 139.37 L106.27 139.38 L106.58 139.38 L106.90 139.39 L107.22 139.39 L107.54 139.40 L107.86 139.40 L108.17 139.41 L108.49 139.41 L108.81 139.42 L109.13 139.42 L109.45 139.43 L109.76 139.43 L110.08 139.44 L110.40 139.44 L110.72 139.45 L111.04 139.45 L111.36 139.46 L111.67 139.46 L111.99 139.47 L112.31 139.48 L112.63 139.48 L112.95 139.49 L113.26 139.49 L113.58 139.50 L113.90 139.50 L114.22 139.51 L114.54 139.51 L114.85 139.52 L115.17 139.53 L115.49 139.53 L115.81 139.54 L116.13 139.54 L116.45 139.55 L116.76 139.56 L117.08 139.56 L117.40 139.57 L117.72 139.57 L118.04 139.58 L118.35 139.59 L118.67 139.59 L118.99 139.60 L119.31 139.61 L119.63 139.61 L119.94 139.62 L120.26 139.63 L120.58 139.63 L120.90 139.64 L121.22 139.65 L121.54 139.65 L121.85 139.66 L122.17 139.67 L122.49 139.67 L122.81 139.68 L123.13 139.69 L123.44 139.69 L123.76 139.70 L124.08 139.71 L124.40 139.71 L124.72 139.72 L125.03 139.73 L125.35 139.74 L125.67 139.74 L125.99 139.75 L126.31 139.76 L126.63 139.77 L126.94 139.77 L127.26 139.78 L127.58 139.79 L127.90 139.80 L128.22 139.81 L128.53 139.81 L128.85 139.82 L129.17 139.83 L129.49 139.84 L129.81 139.85 L130.12 139.85 L130.44 139.86 L130.76 139.87 L131.08 139.88 L131.40 139.89 L131.72 139.90 L132.03 139.91 L132.35 139.91 L132.67 139.92 L132.99 139.93 L133.31 139.94 L133.62 139.95 L133.94 139.96 L134.26 139.97 L134.58 139.98 L134.90 139.99 L135.22 140.00 L135.53 140.01 L135.85 140.02 L136.17 140.03 L136.49 140.04 L136.81 140.05 L137.12 140.06 L137.44 140.07 L137.76 140.08 L138.08 140.09 L138.40 140.10 L138.71 140.11 L139.03 140.12 L139.35 140.13 L139.67 140.14 L139.99 140.15 L140.31 140.16 L140.62 140.17 L140.94 140.18 L141.26 140.19 L141.58 140.20 L141.90 140.22 L142.21 140.23 L142.53 140.24 L142.85 140.25 L143.17 140.26 L143.49 140.27 L143.80 140.29 L144.12 140.30 L144.44 140.31 L144.76 140.32 L145.08 140.33 L145.40 140.35 L145.71 140.36 L146.03 140.37 L146.35 140.38 L146.67 140.40 L146.99 140.41 L147.30 140.42 L147.62 140.44 L147.94 140.45 L148.26 140.46 L148.58 140.48 L148.89 140.49 L149.21 140.51 L149.53 140.52 L149.85 140.53 L150.17 140.55 L150.49 140.56 L150.80 140.58 L151.12 140.59 L151.44 140.61 L151.76 140.62 L152.08 140.64 L152.39 140.65 L152.71 140.67 L153.03 140.68 L153.35 140.70 L153.67 140.72 L153.98 140.73 L154.30 140.75 L154.62 140.76 L154.94 140.78 L155.26 140.80 L155.58 140.81 L155.89 140.83 L156.21 140.85 L156.53 140.87 L156.85 140.88 L157.17 140.90 L157.48 140.92 L157.80 140.94 L158.12 140.96 L158.44 140.97 L158.76 140.99 L159.07 141.01 L159.39 141.03 L159.71 141.05 L160.03 141.07 L160.35 141.09 L160.67 141.11 L160.98 141.13 L161.30 141.15 L161.62 141.17 L161.94 141.19 L162.26 141.21 L162.57 141.23 L162.89 141.26 L163.21 141.28 L163.53 141.30 L163.85 141.32 L164.16 141.34 L164.48 141.37 L164.80 141.39 L165.12 141.41 L165.44 141.44 L165.76 141.46 L166.07 141.48 L166.39 141.51 L166.71 141.53 L167.03 141.56 L167.35 141.58 L167.66 141.61 L167.98 141.63 L168.30 141.66 L168.62 141.69 L168.94 141.71 L169.25 141.74 L169.57 141.77 L169.89 141.79 L170.21 141.82 L170.53 141.85 L170.85 141.88 L171.16 141.91 L171.48 141.94 L171.80 141.97 L172.12 141.99 L172.44 142.03 L172.75 142.06 L173.07 142.09 L173.39 142.12 L173.71 142.15 L174.03 142.18 L174.34 142.21 L174.66 142.25 L174.98 142.28 L175.30 142.31 L175.62 142.35 L175.94 142.38 L176.25 142.42 L176.57 142.45 L176.89 142.49 L177.21 142.52 L177.53 142.56 L177.84 142.60 L178.16 142.64 L178.48 142.67 L178.80 142.71 L179.12 142.75 L179.43 142.79 L179.75 142.83 L180.07 142.87 L180.39 142.91 L180.71 142.96 L181.03 143.00 L181.34 143.04 L181.66 143.09 L181.98 143.13 L182.30 143.17 L182.62 143.22 L182.93 143.27 L183.25 143.31 L183.57 143.36 L183.89 143.41 L184.21 143.46 L184.52 143.51 L184.84 143.55 L185.16 143.61 L185.48 143.66 L185.80 143.71 L186.11 143.76 L186.43 143.82 L186.75 143.87 L187.07 143.92 L187.39 143.98 L187.71 144.04 L188.02 144.09 L188.34 144.15 L188.66 144.21 L188.98 144.27 L189.30 144.33 L189.61 144.40 L189.93 144.46 L190.25 144.52 L190.57 144.59 L190.89 144.65 L191.21 144.72 L191.52 144.79 L191.84 144.86 L192.16 144.93 L192.48 145.00 L192.80 145.07 L193.11 145.14 L193.43 145.22 L193.75 145.29 L194.07 145.37 L194.39 145.45 L194.70 145.53 L195.02 145.61 L195.34 145.69 L195.66 145.77 L195.98 145.86 L196.29 145.94 L196.61 146.03 L196.93 146.12 L197.25 146.21 L197.57 146.30 L197.89 146.39 L198.20 146.49 L198.52 146.58 L198.84 146.68 L199.16 146.78 L199.48 146.88 L199.79 146.98 L200.11 147.09 L200.43 147.20 L200.75 147.31 L201.07 147.42 L201.39 147.53 L201.70 147.64 L202.02 147.76 L202.34 147.88 L202.66 148.00 L202.98 148.12 L203.29 148.25 L203.61 148.37 L203.93 148.50 L204.25 148.64 L204.57 148.77 L204.88 148.91 L205.20 149.05 L205.52 149.19 L205.84 149.33 L206.16 149.48 L206.47 149.63 L206.79 149.79 L207.11 149.94 L207.43 150.10 L207.75 150.26 L208.07 150.43 L208.38 150.60 L208.70 150.77 L209.02 150.95 L209.34 151.13 L209.66 151.31 L209.97 151.50 L210.29 151.69 L210.61 151.88 L210.93 152.08 L211.25 152.28 L211.56 152.49 L211.88 152.70 L212.20 152.91 L212.52 153.13 L212.84 153.36 L213.16 153.59 L213.47 153.82 L213.79 154.06 L214.11 154.30 L214.43 154.55 L214.75 154.81 L215.06 155.07 L215.38 155.33 L215.70 155.61 L216.02 155.88 L216.34 156.17 L216.65 156.46 L216.97 156.76 L217.29 157.06 L217.61 157.37 L217.93 157.69 L218.25 158.01 L218.56 158.35 L218.88 158.69 L219.20 159.03 L219.52 159.39 L219.84 159.76 L220.15 160.13 L220.47 160.51 L220.79 160.90 L221.11 161.30 L221.43 161.72 L221.74 162.14 L222.06 162.57 L222.38 163.01 L222.70 163.46 L223.02 163.92 L223.34 164.40 L223.65 164.89 L223.97 165.39 L224.29 165.90 L224.61 166.42 L224.93 166.96 L225.24 167.51 L225.56 168.08 L225.88 168.66 L226.20 169.25 L226.52 169.87 L226.83 170.49 L227.15 171.14 L227.47 171.80 L227.79 172.48 L228.11 173.17 L228.43 173.89 L228.74 174.62 L229.06 175.37 L229.38 176.15 L229.70 176.94 L230.02 177.76 L230.33 178.59 L230.65 179.46 L230.97 180.34 L231.29 181.25 L231.61 182.18 L231.92 183.14 L232.24 184.13 L232.56 185.14 L232.88 186.18 L233.20 187.25 L233.52 188.35 L233.83 189.48 L234.15 190.64 L234.47 191.83 L234.79 193.05 L235.11 194.31 L235.42 195.60 L235.74 196.93 L236.06 198.29 L236.38 199.68 L236.70 201.11 L237.01 202.58 L237.33 204.09 L237.65 205.62 L237.97 207.20 L238.29 208.81 L238.61 210.45 L238.92 212.13 L239.24 213.83 L239.56 215.56 L239.88 217.32 L240.20 219.10 L240.51 220.89 L240.83 222.69 L241.15 224.48 L241.47 226.28 L241.79 228.05 L242.10 229.79 L242.42 231.48 L242.74 233.11 L243.06 234.67 L243.38 236.12 L243.70 237.46 L244.01 238.66 L244.33 239.71 L244.65 240.57 L244.97 241.24 L245.29 241.71 L245.60 241.95 L245.92 241.98 L246.24 241.86 L246.56 241.61 L246.88 241.22 L247.19 240.71 L247.51 240.08 L247.83 239.34 L248.15 238.49 L248.47 237.55 L248.79 236.53 L249.10 235.43 L249.42 234.27 L249.74 233.05 L250.06 231.79 L250.38 230.48 L250.69 229.15 L251.01 227.79 L251.33 226.41 L251.65 225.02 L251.97 223.62 L252.28 222.22 L252.60 220.82 L252.92 219.43 L253.24 218.05 L253.56 216.67 L253.88 215.31 L254.19 213.97 L254.51 212.64 L254.83 211.32 L255.15 210.03 L255.47 208.76 L255.78 207.50 L256.10 206.27 L256.42 205.06 L256.74 203.87 L257.06 202.70 L257.38 201.56 L257.69 200.43 L258.01 199.33 L258.33 198.25 L258.65 197.19 L258.97 196.15 L259.28 195.13 L259.60 194.14 L259.92 193.16 L260.24 192.20 L260.56 191.27 L260.87 190.35 L261.19 189.45 L261.51 188.57 L261.83 187.71 L262.15 186.87 L262.47 186.04 L262.78 185.23 L263.10 184.44 L263.42 183.66 L263.74 182.91 L264.06 182.16 L264.37 181.43 L264.69 180.72 L265.01 180.03 L265.33 179.34 L265.65 178.67 L265.96 178.02 L266.28 177.38 L266.60 176.75 L266.92 176.13 L267.24 175.53 L267.56 174.94 L267.87 174.36 L268.19 173.79 L268.51 173.24 L268.83 172.70 L269.15 172.16 L269.46 171.64 L269.78 171.13 L270.10 170.63 L270.42 170.14 L270.74 169.65 L271.05 169.18 L271.37 168.72 L271.69 168.26 L272.01 167.82 L272.33 167.38 L272.64 166.96 L272.96 166.54 L273.28 166.13 L273.60 165.72 L273.92 165.33 L274.24 164.94 L274.55 164.56 L274.87 164.18 L275.19 163.82 L275.51 163.46 L275.83 163.11 L276.14 162.76 L276.46 162.42 L276.78 162.09 L277.10 161.76 L277.42 161.44 L277.74 161.12 L278.05 160.81 L278.37 160.51 L278.69 160.21 L279.01 159.92 L279.33 159.63 L279.64 159.35 L279.96 159.07 L280.28 158.80 L280.60 158.53 L280.92 158.27 L281.23 158.01 L281.55 157.76 L281.87 157.51 L282.19 157.27 L282.51 157.03 L282.83 156.79 L283.14 156.56 L283.46 156.33 L283.78 156.11 L284.10 155.88 L284.42 155.67 L284.73 155.46 L285.05 155.25 L285.37 155.04 L285.69 154.84 L286.01 154.64 L286.32 154.44 L286.64 154.25 L286.96 154.06 L287.28 153.87 L287.60 153.69 L287.92 153.51 L288.23 153.33 L288.55 153.16 L288.87 152.99 L289.19 152.82 L289.51 152.65 L289.82 152.49 L290.14 152.33 L290.46 152.17 L290.78 152.01 L291.10 151.86 L291.41 151.71 L291.73 151.56 L292.05 151.42 L292.37 151.27 L292.69 151.13 L293.00 150.99 L293.32 150.85 L293.64 150.72 L293.96 150.58 L294.28 150.45 L294.60 150.32 L294.91 150.19 L295.23 150.07 L295.55 149.95 L295.87 149.82 L296.19 149.70 L296.50 149.59 L296.82 149.47 L297.14 149.35 L297.46 149.24 L297.78 149.13 L298.10 149.02 L298.41 148.91 L298.73 148.80 L299.05 148.70 L299.37 148.59 L299.69 148.49 L300.00 148.39 L300.32 148.29 L300.64 148.19 L300.96 148.10 L301.28 148.00 L301.59 147.91 L301.91 147.81 L302.23 147.72 L302.55 147.63 L302.87 147.54 L303.19 147.46 L303.50 147.37 L303.82 147.28 L304.14 147.20 L304.46 147.12 L304.78 147.03 L305.09 146.95 L305.41 146.87 L305.73 146.80 L306.05 146.72 L306.37 146.64 L306.68 146.56 L307.00 146.49 L307.32 146.42 L307.64 146.34 L307.96 146.27 L308.28 146.20 L308.59 146.13 L308.91 146.06 L309.23 145.99 L309.55 145.93 L309.87 145.86 L310.18 145.79 L310.50 145.73 L310.82 145.66 L311.14 145.60 L311.46 145.54 L311.77 145.48 L312.09 145.41 L312.41 145.35 L312.73 145.29 L313.05 145.24 L313.36 145.18 L313.68 145.12 L314.00 145.06 L314.32 145.01 L314.64 144.95 L314.96 144.90 L315.27 144.84 L315.59 144.79 L315.91 144.74 L316.23 144.69 L316.55 144.63 L316.86 144.58 L317.18 144.53 L317.50 144.48 L317.82 144.43 L318.14 144.38 L318.46 144.34 L318.77 144.29 L319.09 144.24 L319.41 144.20 L319.73 144.15 L320.05 144.10 L320.36 144.06 L320.68 144.02 L321.00 143.97" fill="none" stroke="#3050c0" stroke-width="1.4" stroke-dasharray="4.5 3.8"/>
<path d="M66.50 138.92 L66.82 138.92 L67.14 138.92 L67.45 138.92 L67.77 138.93 L68.09 138.93 L68.41 138.93 L68.73 138.93 L69.04 138.93 L69.36 138.94 L69.68 138.94 L70.00 138.94 L70.32 138.94 L70.64 138.95 L70.95 138.95 L71.27 138.95 L71.59 138.95 L71.91 138.95 L72.23 138.96 L72.54 138.96 L72.86 138.96 L73.18 138.96 L73.50 138.96 L73.82 138.97 L74.13 138.97 L74.45 138.97 L74.77 138.97 L75.09 138.98 L75.41 138.98 L75.73 138.98 L76.04 138.98 L76.36 138.99 L76.68 138.99 L77.00 138.99 L77.32 138.99 L77.63 138.99 L77.95 139.00 L78.27 139.00 L78.59 139.00 L78.91 139.00 L79.22 139.01 L79.54 139.01 L79.86 139.01 L80.18 139.01 L80.50 139.02 L80.82 139.02 L81.13 139.02 L81.45 139.02 L81.77 139.03 L82.09 139.03 L82.41 139.03 L82.72 139.03 L83.04 139.04 L83.36 139.04 L83.68 139.04 L84.00 139.04 L84.31 139.05 L84.63 139.05 L84.95 139.05 L85.27 139.06 L85.59 139.06 L85.91 139.06 L86.22 139.06 L86.54 139.07 L86.86 139.07 L87.18 139.07 L87.50 139.07 L87.81 139.08 L88.13 139.08 L88.45 139.08 L88.77 139.09 L89.09 139.09 L89.40 139.09 L89.72 139.09 L90.04 139.10 L90.36 139.10 L90.68 139.10 L91.00 139.11 L91.31 139.11 L91.63 139.11 L91.95 139.11 L92.27 139.12 L92.59 139.12 L92.90 139.12 L93.22 139.13 L93.54 139.13 L93.86 139.13 L94.18 139.14 L94.49 139.14 L94.81 139.14 L95.13 139.15 L95.45 139.15 L95.77 139.15 L96.09 139.16 L96.40 139.16 L96.72 139.16 L97.04 139.17 L97.36 139.17 L97.68 139.17 L97.99 139.18 L98.31 139.18 L98.63 139.18 L98.95 139.19 L99.27 139.19 L99.58 139.19 L99.90 139.20 L100.22 139.20 L100.54 139.20 L100.86 139.21 L101.18 139.21 L101.49 139.21 L101.81 139.22 L102.13 139.22 L102.45 139.22 L102.77 139.23 L103.08 139.23 L103.40 139.24 L103.72 139.24 L104.04 139.24 L104.36 139.25 L104.67 139.25 L104.99 139.25 L105.31 139.26 L105.63 139.26 L105.95 139.27 L106.27 139.27 L106.58 139.27 L106.90 139.28 L107.22 139.28 L107.54 139.29 L107.86 139.29 L108.17 139.29 L108.49 139.30 L108.81 139.30 L109.13 139.31 L109.45 139.31 L109.76 139.31 L110.08 139.32 L110.40 139.32 L110.72 139.33 L111.04 139.33 L111.36 139.33 L111.67 139.34 L111.99 139.34 L112.31 139.35 L112.63 139.35 L112.95 139.36 L113.26 139.36 L113.58 139.37 L113.90 139.37 L114.22 139.37 L114.54 139.38 L114.85 139.38 L115.17 139.39 L115.49 139.39 L115.81 139.40 L116.13 139.40 L116.45 139.41 L116.76 139.41 L117.08 139.42 L117.40 139.42 L117.72 139.43 L118.04 139.43 L118.35 139.44 L118.67 139.44 L118.99 139.45 L119.31 139.45 L119.63 139.46 L119.94 139.46 L120.26 139.47 L120.58 139.47 L120.90 139.48 L121.22 139.48 L121.54 139.49 L121.85 139.49 L122.17 139.50 L122.49 139.50 L122.81 139.51 L123.13 139.51 L123.44 139.52 L123.76 139.53 L124.08 139.53 L124.40 139.54 L124.72 139.54 L125.03 139.55 L125.35 139.55 L125.67 139.56 L125.99 139.57 L126.31 139.57 L126.63 139.58 L126.94 139.58 L127.26 139.59 L127.58 139.59 L127.90 139.60 L128.22 139.61 L128.53 139.61 L128.85 139.62 L129.17 139.63 L129.49 139.63 L129.81 139.64 L130.12 139.64 L130.44 139.65 L130.76 139.66 L131.08 139.66 L131.40 139.67 L131.72 139.68 L132.03 139.68 L132.35 139.69 L132.67 139.70 L132.99 139.70 L133.31 139.71 L133.62 139.72 L133.94 139.72 L134.26 139.73 L134.58 139.74 L134.90 139.74 L135.22 139.75 L135.53 139.76 L135.85 139.77 L136.17 139.77 L136.49 139.78 L136.81 139.79 L137.12 139.80 L137.44 139.80 L137.76 139.81 L138.08 139.82 L138.40 139.83 L138.71 139.83 L139.03 139.84 L139.35 139.85 L139.67 139.86 L139.99 139.86 L140.31 139.87 L140.62 139.88 L140.94 139.89 L141.26 139.90 L141.58 139.91 L141.90 139.91 L142.21 139.92 L142.53 139.93 L142.85 139.94 L143.17 139.95 L143.49 139.96 L143.80 139.96 L144.12 139.97 L144.44 139.98 L144.76 139.99 L145.08 140.00 L145.40 140.01 L145.71 140.02 L146.03 140.03 L146.35 140.04 L146.67 140.05 L146.99 140.06 L147.30 140.07 L147.62 140.07 L147.94 140.08 L148.26 140.09 L148.58 140.10 L148.89 140.11 L149.21 140.12 L149.53 140.13 L149.85 140.14 L150.17 140.15 L150.49 140.16 L150.80 140.17 L151.12 140.19 L151.44 140.20 L151.76 140.21 L152.08 140.22 L152.39 140.23 L152.71 140.24 L153.03 140.25 L153.35 140.26 L153.67 140.27 L153.98 140.28 L154.30 140.30 L154.62 140.31 L154.94 140.32 L155.26 140.33 L155.58 140.34 L155.89 140.35 L156.21 140.37 L156.53 140.38 L156.85 140.39 L157.17 140.40 L157.48 140.41 L157.80 140.43 L158.12 140.44 L158.44 140.45 L158.76 140.47 L159.07 140.48 L159.39 140.49 L159.71 140.50 L160.03 140.52 L160.35 140.53 L160.67 140.54 L160.98 140.56 L161.30 140.57 L161.62 140.59 L161.94 140.60 L162.26 140.61 L162.57 140.63 L162.89 140.64 L163.21 140.66 L163.53 140.67 L163.85 140.69 L164.16 140.70 L164.48 140.72 L164.80 140.73 L165.12 140.75 L165.44 140.76 L165.76 140.78 L166.07 140.80 L166.39 140.81 L166.71 140.83 L167.03 140.84 L167.35 140.86 L167.66 140.88 L167.98 140.89 L168.30 140.91 L168.62 140.93 L168.94 140.94 L169.25 140.96 L169.57 140.98 L169.89 141.00 L170.21 141.02 L170.53 141.03 L170.85 141.05 L171.16 141.07 L171.48 141.09 L171.80 141.11 L172.12 141.13 L172.44 141.15 L172.75 141.17 L173.07 141.19 L173.39 141.21 L173.71 141.23 L174.03 141.25 L174.34 141.27 L174.66 141.29 L174.98 141.31 L175.30 141.33 L175.62 141.35 L175.94 141.37 L176.25 141.39 L176.57 141.42 L176.89 141.44 L177.21 141.46 L177.53 141.48 L177.84 141.51 L178.16 141.53 L178.48 141.55 L178.80 141.58 L179.12 141.60 L179.43 141.62 L179.75 141.65 L180.07 141.67 L180.39 141.70 L180.71 141.72 L181.03 141.75 L181.34 141.77 L181.66 141.80 L181.98 141.83 L182.30 141.85 L182.62 141.88 L182.93 141.91 L183.25 141.94 L183.57 141.96 L183.89 141.99 L184.21 142.02 L184.52 142.05 L184.84 142.08 L185.16 142.11 L185.48 142.14 L185.80 142.17 L186.11 142.20 L186.43 142.23 L186.75 142.26 L187.07 142.29 L187.39 142.32 L187.71 142.36 L188.02 142.39 L188.34 142.42 L188.66 142.46 L188.98 142.49 L189.30 142.53 L189.61 142.56 L189.93 142.60 L190.25 142.63 L190.57 142.67 L190.89 142.70 L191.21 142.74 L191.52 142.78 L191.84 142.82 L192.16 142.85 L192.48 142.89 L192.80 142.93 L193.11 142.97 L193.43 143.01 L193.75 143.05 L194.07 143.10 L194.39 143.14 L194.70 143.18 L195.02 143.22 L195.34 143.27 L195.66 143.31 L195.98 143.36 L196.29 143.40 L196.61 143.45 L196.93 143.49 L197.25 143.54 L197.57 143.59 L197.89 143.64 L198.20 143.69 L198.52 143.73 L198.84 143.79 L199.16 143.84 L199.48 143.89 L199.79 143.94 L200.11 143.99 L200.43 144.05 L200.75 144.10 L201.07 144.16 L201.39 144.21 L201.70 144.27 L202.02 144.33 L202.34 144.39 L202.66 144.45 L202.98 144.51 L203.29 144.57 L203.61 144.63 L203.93 144.69 L204.25 144.76 L204.57 144.82 L204.88 144.89 L205.20 144.95 L205.52 145.02 L205.84 145.09 L206.16 145.16 L206.47 145.23 L206.79 145.30 L207.11 145.38 L207.43 145.45 L207.75 145.52 L208.07 145.60 L208.38 145.68 L208.70 145.76 L209.02 145.84 L209.34 145.92 L209.66 146.00 L209.97 146.08 L210.29 146.17 L210.61 146.25 L210.93 146.34 L211.25 146.43 L211.56 146.52 L211.88 146.61 L212.20 146.71 L212.52 146.80 L212.84 146.90 L213.16 147.00 L213.47 147.10 L213.79 147.20 L214.11 147.30 L214.43 147.41 L214.75 147.51 L215.06 147.62 L215.38 147.73 L215.70 147.84 L216.02 147.96 L216.34 148.07 L216.65 148.19 L216.97 148.31 L217.29 148.43 L217.61 148.56 L217.93 148.68 L218.25 148.81 L218.56 148.94 L218.88 149.08 L219.20 149.21 L219.52 149.35 L219.84 149.49 L220.15 149.63 L220.47 149.78 L220.79 149.93 L221.11 150.08 L221.43 150.23 L221.74 150.39 L222.06 150.55 L222.38 150.71 L222.70 150.88 L223.02 151.05 L223.34 151.22 L223.65 151.39 L223.97 151.57 L224.29 151.75 L224.61 151.94 L224.93 152.13 L225.24 152.32 L225.56 152.52 L225.88 152.72 L226.20 152.92 L226.52 153.13 L226.83 153.35 L227.15 153.56 L227.47 153.79 L227.79 154.01 L228.11 154.24 L228.43 154.48 L228.74 154.72 L229.06 154.97 L229.38 155.22 L229.70 155.47 L230.02 155.74 L230.33 156.00 L230.65 156.28 L230.97 156.55 L231.29 156.84 L231.61 157.13 L231.92 157.43 L232.24 157.73 L232.56 158.04 L232.88 158.36 L233.20 158.69 L233.52 159.02 L233.83 159.36 L234.15 159.70 L234.47 160.06 L234.79 160.42 L235.11 160.79 L235.42 161.17 L235.74 161.56 L236.06 161.96 L236.38 162.37 L236.70 162.78 L237.01 163.21 L237.33 163.65 L237.65 164.09 L237.97 164.55 L238.29 165.02 L238.61 165.50 L238.92 165.99 L239.24 166.50 L239.56 167.02 L239.88 167.55 L240.20 168.09 L240.51 168.65 L240.83 169.22 L241.15 169.80 L241.47 170.40 L241.79 171.02 L242.10 171.65 L242.42 172.29 L242.74 172.96 L243.06 173.64 L243.38 174.34 L243.70 175.06 L244.01 175.79 L244.33 176.55 L244.65 177.33 L244.97 178.12 L245.29 178.94 L245.60 179.79 L245.92 180.65 L246.24 181.54 L246.56 182.45 L246.88 183.39 L247.19 184.35 L247.51 185.35 L247.83 186.37 L248.15 187.41 L248.47 188.49 L248.79 189.60 L249.10 190.74 L249.42 191.92 L249.74 193.12 L250.06 194.37 L250.38 195.64 L250.69 196.96 L251.01 198.31 L251.33 199.71 L251.65 201.14 L251.97 202.62 L252.28 204.14 L252.60 205.70 L252.92 207.31 L253.24 208.96 L253.56 210.66 L253.88 212.41 L254.19 214.21 L254.51 216.05 L254.83 217.94 L255.15 219.88 L255.47 221.87 L255.78 223.90 L256.10 225.97 L256.42 228.08 L256.74 230.22 L257.06 232.39 L257.38 234.58 L257.69 236.78 L258.01 238.97 L258.33 241.13 L258.65 243.26 L258.97 245.33 L259.28 247.30 L259.60 249.16 L259.92 250.87 L260.24 252.39 L260.56 253.70 L260.87 254.76 L261.19 255.53 L261.51 256.01 L261.83 256.17 L262.15 256.05 L262.47 255.71 L262.78 255.16 L263.10 254.39 L263.42 253.43 L263.74 252.30 L264.06 251.02 L264.37 249.60 L264.69 248.07 L265.01 246.45 L265.33 244.75 L265.65 243.00 L265.96 241.20 L266.28 239.37 L266.60 237.53 L266.92 235.68 L267.24 233.83 L267.56 231.98 L267.87 230.15 L268.19 228.35 L268.51 226.56 L268.83 224.80 L269.15 223.07 L269.46 221.37 L269.78 219.70 L270.10 218.06 L270.42 216.46 L270.74 214.89 L271.05 213.36 L271.37 211.86 L271.69 210.39 L272.01 208.96 L272.33 207.56 L272.64 206.20 L272.96 204.86 L273.28 203.56 L273.60 202.29 L273.92 201.05 L274.24 199.84 L274.55 198.66 L274.87 197.50 L275.19 196.38 L275.51 195.28 L275.83 194.21 L276.14 193.16 L276.46 192.14 L276.78 191.14 L277.10 190.17 L277.42 189.22 L277.74 188.29 L278.05 187.38 L278.37 186.50 L278.69 185.63 L279.01 184.79 L279.33 183.96 L279.64 183.15 L279.96 182.37 L280.28 181.60 L280.60 180.84 L280.92 180.11 L281.23 179.39 L281.55 178.69 L281.87 178.00 L282.19 177.33 L282.51 176.67 L282.83 176.03 L283.14 175.40 L283.46 174.79 L283.78 174.18 L284.10 173.60 L284.42 173.02 L284.73 172.46 L285.05 171.91 L285.37 171.37 L285.69 170.84 L286.01 170.32 L286.32 169.82 L286.64 169.32 L286.96 168.84 L287.28 168.37 L287.60 167.90 L287.92 167.45 L288.23 167.00 L288.55 166.56 L288.87 166.14 L289.19 165.72 L289.51 165.31 L289.82 164.90 L290.14 164.51 L290.46 164.12 L290.78 163.74 L291.10 163.37 L291.41 163.01 L291.73 162.65 L292.05 162.30 L292.37 161.96 L292.69 161.62 L293.00 161.29 L293.32 160.97 L293.64 160.65 L293.96 160.34 L294.28 160.04 L294.60 159.74 L294.91 159.44 L295.23 159.15 L295.55 158.87 L295.87 158.59 L296.19 158.32 L296.50 158.05 L296.82 157.79 L297.14 157.53 L297.46 157.28 L297.78 157.03 L298.10 156.79 L298.41 156.55 L298.73 156.31 L299.05 156.08 L299.37 155.85 L299.69 155.63 L300.00 155.41 L300.32 155.19 L300.64 154.98 L300.96 154.77 L301.28 154.57 L301.59 154.37 L301.91 154.17 L302.23 153.98 L302.55 153.79 L302.87 153.60 L303.19 153.41 L303.50 153.23 L303.82 153.05 L304.14 152.88 L304.46 152.71 L304.78 152.54 L305.09 152.37 L305.41 152.21 L305.73 152.05 L306.05 151.89 L306.37 151.73 L306.68 151.58 L307.00 151.43 L307.32 151.28 L307.64 151.13 L307.96 150.99 L308.28 150.84 L308.59 150.71 L308.91 150.57 L309.23 150.43 L309.55 150.30 L309.87 150.17 L310.18 150.04 L310.50 149.91 L310.82 149.79 L311.14 149.66 L311.46 149.54 L311.77 149.42 L312.09 149.31 L312.41 149.19 L312.73 149.08 L313.05 148.96 L313.36 148.85 L313.68 148.74 L314.00 148.64 L314.32 148.53 L314.64 148.42 L314.96 148.32 L315.27 148.22 L315.59 148.12 L315.91 148.02 L316.23 147.92 L316.55 147.83 L316.86 147.73 L317.18 147.64 L317.50 147.55 L317.82 147.46 L318.14 147.37 L318.46 147.28 L318.77 147.19 L319.09 147.11 L319.41 147.02 L319.73 146.94 L320.05 146.86 L320.36 146.78 L320.68 146.70 L321.00 146.62" fill="none" stroke="#108040" stroke-width="1.4" stroke-dasharray="4.5 3.8"/>
<path d="M66.50 138.89 L66.82 138.89 L67.14 138.90 L67.45 138.90 L67.77 138.90 L68.09 138.90 L68.41 138.90 L68.73 138.91 L69.04 138.91 L69.36 138.91 L69.68 138.91 L70.00 138.91 L70.32 138.91 L70.64 138.92 L70.95 138.92 L71.27 138.92 L71.59 138.92 L71.91 138.92 L72.23 138.93 L72.54 138.93 L72.86 138.93 L73.18 138.93 L73.50 138.93 L73.82 138.94 L74.13 138.94 L74.45 138.94 L74.77 138.94 L75.09 138.94 L75.41 138.95 L75.73 138.95 L76.04 138.95 L76.36 138.95 L76.68 138.95 L77.00 138.96 L77.32 138.96 L77.63 138.96 L77.95 138.96 L78.27 138.96 L78.59 138.97 L78.91 138.97 L79.22 138.97 L79.54 138.97 L79.86 138.97 L80.18 138.98 L80.50 138.98 L80.82 138.98 L81.13 138.98 L81.45 138.99 L81.77 138.99 L82.09 138.99 L82.41 138.99 L82.72 138.99 L83.04 139.00 L83.36 139.00 L83.68 139.00 L84.00 139.00 L84.31 139.01 L84.63 139.01 L84.95 139.01 L85.27 139.01 L85.59 139.01 L85.91 139.02 L86.22 139.02 L86.54 139.02 L86.86 139.02 L87.18 139.03 L87.50 139.03 L87.81 139.03 L88.13 139.03 L88.45 139.04 L88.77 139.04 L89.09 139.04 L89.40 139.04 L89.72 139.05 L90.04 139.05 L90.36 139.05 L90.68 139.05 L91.00 139.06 L91.31 139.06 L91.63 139.06 L91.95 139.06 L92.27 139.07 L92.59 139.07 L92.90 139.07 L93.22 139.07 L93.54 139.08 L93.86 139.08 L94.18 139.08 L94.49 139.08 L94.81 139.09 L95.13 139.09 L95.45 139.09 L95.77 139.10 L96.09 139.10 L96.40 139.10 L96.72 139.10 L97.04 139.11 L97.36 139.11 L97.68 139.11 L97.99 139.12 L98.31 139.12 L98.63 139.12 L98.95 139.12 L99.27 139.13 L99.58 139.13 L99.90 139.13 L100.22 139.14 L100.54 139.14 L100.86 139.14 L101.18 139.14 L101.49 139.15 L101.81 139.15 L102.13 139.15 L102.45 139.16 L102.77 139.16 L103.08 139.16 L103.40 139.17 L103.72 139.17 L104.04 139.17 L104.36 139.18 L104.67 139.18 L104.99 139.18 L105.31 139.18 L105.63 139.19 L105.95 139.19 L106.27 139.19 L106.58 139.20 L106.90 139.20 L107.22 139.20 L107.54 139.21 L107.86 139.21 L108.17 139.21 L108.49 139.22 L108.81 139.22 L109.13 139.22 L109.45 139.23 L109.76 139.23 L110.08 139.23 L110.40 139.24 L110.72 139.24 L111.04 139.25 L111.36 139.25 L111.67 139.25 L111.99 139.26 L112.31 139.26 L112.63 139.26 L112.95 139.27 L113.26 139.27 L113.58 139.27 L113.90 139.28 L114.22 139.28 L114.54 139.29 L114.85 139.29 L115.17 139.29 L115.49 139.30 L115.81 139.30 L116.13 139.30 L116.45 139.31 L116.76 139.31 L117.08 139.32 L117.40 139.32 L117.72 139.32 L118.04 139.33 L118.35 139.33 L118.67 139.34 L118.99 139.34 L119.31 139.34 L119.63 139.35 L119.94 139.35 L120.26 139.36 L120.58 139.36 L120.90 139.37 L121.22 139.37 L121.54 139.37 L121.85 139.38 L122.17 139.38 L122.49 139.39 L122.81 139.39 L123.13 139.40 L123.44 139.40 L123.76 139.41 L124.08 139.41 L124.40 139.41 L124.72 139.42 L125.03 139.42 L125.35 139.43 L125.67 139.43 L125.99 139.44 L126.31 139.44 L126.63 139.45 L126.94 139.45 L127.26 139.46 L127.58 139.46 L127.90 139.47 L128.22 139.47 L128.53 139.48 L128.85 139.48 L129.17 139.49 L129.49 139.49 L129.81 139.50 L130.12 139.50 L130.44 139.51 L130.76 139.51 L131.08 139.52 L131.40 139.52 L131.72 139.53 L132.03 139.53 L132.35 139.54 L132.67 139.54 L132.99 139.55 L133.31 139.55 L133.62 139.56 L133.94 139.56 L134.26 139.57 L134.58 139.57 L134.90 139.58 L135.22 139.59 L135.53 139.59 L135.85 139.60 L136.17 139.60 L136.49 139.61 L136.81 139.61 L137.12 139.62 L137.44 139.63 L137.76 139.63 L138.08 139.64 L138.40 139.64 L138.71 139.65 L139.03 139.66 L139.35 139.66 L139.67 139.67 L139.99 139.67 L140.31 139.68 L140.62 139.69 L140.94 139.69 L141.26 139.70 L141.58 139.71 L141.90 139.71 L142.21 139.72 L142.53 139.72 L142.85 139.73 L143.17 139.74 L143.49 139.74 L143.80 139.75 L144.12 139.76 L144.44 139.76 L144.76 139.77 L145.08 139.78 L145.40 139.79 L145.71 139.79 L146.03 139.80 L146.35 139.81 L146.67 139.81 L146.99 139.82 L147.30 139.83 L147.62 139.84 L147.94 139.84 L148.26 139.85 L148.58 139.86 L148.89 139.86 L149.21 139.87 L149.53 139.88 L149.85 139.89 L150.17 139.90 L150.49 139.90 L150.80 139.91 L151.12 139.92 L151.44 139.93 L151.76 139.93 L152.08 139.94 L152.39 139.95 L152.71 139.96 L153.03 139.97 L153.35 139.98 L153.67 139.98 L153.98 139.99 L154.30 140.00 L154.62 140.01 L154.94 140.02 L155.26 140.03 L155.58 140.04 L155.89 140.04 L156.21 140.05 L156.53 140.06 L156.85 140.07 L157.17 140.08 L157.48 140.09 L157.80 140.10 L158.12 140.11 L158.44 140.12 L158.76 140.13 L159.07 140.14 L159.39 140.15 L159.71 140.16 L160.03 140.16 L160.35 140.17 L160.67 140.18 L160.98 140.19 L161.30 140.20 L161.62 140.21 L161.94 140.22 L162.26 140.24 L162.57 140.25 L162.89 140.26 L163.21 140.27 L163.53 140.28 L163.85 140.29 L164.16 140.30 L164.48 140.31 L164.80 140.32 L165.12 140.33 L165.44 140.34 L165.76 140.35 L166.07 140.36 L166.39 140.38 L166.71 140.39 L167.03 140.40 L167.35 140.41 L167.66 140.42 L167.98 140.43 L168.30 140.45 L168.62 140.46 L168.94 140.47 L169.25 140.48 L169.57 140.50 L169.89 140.51 L170.21 140.52 L170.53 140.53 L170.85 140.55 L171.16 140.56 L171.48 140.57 L171.80 140.59 L172.12 140.60 L172.44 140.61 L172.75 140.63 L173.07 140.64 L173.39 140.65 L173.71 140.67 L174.03 140.68 L174.34 140.69 L174.66 140.71 L174.98 140.72 L175.30 140.74 L175.62 140.75 L175.94 140.77 L176.25 140.78 L176.57 140.80 L176.89 140.81 L177.21 140.83 L177.53 140.84 L177.84 140.86 L178.16 140.87 L178.48 140.89 L178.80 140.91 L179.12 140.92 L179.43 140.94 L179.75 140.95 L180.07 140.97 L180.39 140.99 L180.71 141.00 L181.03 141.02 L181.34 141.04 L181.66 141.06 L181.98 141.07 L182.30 141.09 L182.62 141.11 L182.93 141.13 L183.25 141.14 L183.57 141.16 L183.89 141.18 L184.21 141.20 L184.52 141.22 L184.84 141.24 L185.16 141.26 L185.48 141.28 L185.80 141.30 L186.11 141.32 L186.43 141.34 L186.75 141.36 L187.07 141.38 L187.39 141.40 L187.71 141.42 L188.02 141.44 L188.34 141.46 L188.66 141.48 L188.98 141.50 L189.30 141.52 L189.61 141.55 L189.93 141.57 L190.25 141.59 L190.57 141.61 L190.89 141.64 L191.21 141.66 L191.52 141.68 L191.84 141.71 L192.16 141.73 L192.48 141.76 L192.80 141.78 L193.11 141.80 L193.43 141.83 L193.75 141.85 L194.07 141.88 L194.39 141.91 L194.70 141.93 L195.02 141.96 L195.34 141.98 L195.66 142.01 L195.98 142.04 L196.29 142.07 L196.61 142.09 L196.93 142.12 L197.25 142.15 L197.57 142.18 L197.89 142.21 L198.20 142.24 L198.52 142.27 L198.84 142.30 L199.16 142.33 L199.48 142.36 L199.79 142.39 L200.11 142.42 L200.43 142.45 L200.75 142.48 L201.07 142.52 L201.39 142.55 L201.70 142.58 L202.02 142.62 L202.34 142.65 L202.66 142.68 L202.98 142.72 L203.29 142.75 L203.61 142.79 L203.93 142.82 L204.25 142.86 L204.57 142.90 L204.88 142.94 L205.20 142.97 L205.52 143.01 L205.84 143.05 L206.16 143.09 L206.47 143.13 L206.79 143.17 L207.11 143.21 L207.43 143.25 L207.75 143.29 L208.07 143.33 L208.38 143.38 L208.70 143.42 L209.02 143.46 L209.34 143.51 L209.66 143.55 L209.97 143.60 L210.29 143.64 L210.61 143.69 L210.93 143.73 L211.25 143.78 L211.56 143.83 L211.88 143.88 L212.20 143.93 L212.52 143.98 L212.84 144.03 L213.16 144.08 L213.47 144.13 L213.79 144.19 L214.11 144.24 L214.43 144.29 L214.75 144.35 L215.06 144.40 L215.38 144.46 L215.70 144.52 L216.02 144.57 L216.34 144.63 L216.65 144.69 L216.97 144.75 L217.29 144.81 L217.61 144.88 L217.93 144.94 L218.25 145.00 L218.56 145.07 L218.88 145.13 L219.20 145.20 L219.52 145.27 L219.84 145.33 L220.15 145.40 L220.47 145.47 L220.79 145.54 L221.11 145.62 L221.43 145.69 L221.74 145.76 L222.06 145.84 L222.38 145.92 L222.70 145.99 L223.02 146.07 L223.34 146.15 L223.65 146.23 L223.97 146.32 L224.29 146.40 L224.61 146.49 L224.93 146.57 L225.24 146.66 L225.56 146.75 L225.88 146.84 L226.20 146.93 L226.52 147.02 L226.83 147.12 L227.15 147.21 L227.47 147.31 L227.79 147.41 L228.11 147.51 L228.43 147.61 L228.74 147.72 L229.06 147.82 L229.38 147.93 L229.70 148.04 L230.02 148.15 L230.33 148.26 L230.65 148.38 L230.97 148.49 L231.29 148.61 L231.61 148.73 L231.92 148.85 L232.24 148.98 L232.56 149.10 L232.88 149.23 L233.20 149.36 L233.52 149.50 L233.83 149.63 L234.15 149.77 L234.47 149.91 L234.79 150.05 L235.11 150.19 L235.42 150.34 L235.74 150.49 L236.06 150.65 L236.38 150.80 L236.70 150.96 L237.01 151.12 L237.33 151.28 L237.65 151.45 L237.97 151.62 L238.29 151.79 L238.61 151.97 L238.92 152.15 L239.24 152.33 L239.56 152.52 L239.88 152.71 L240.20 152.90 L240.51 153.10 L240.83 153.30 L241.15 153.50 L241.47 153.71 L241.79 153.93 L242.10 154.14 L242.42 154.36 L242.74 154.59 L243.06 154.82 L243.38 155.05 L243.70 155.29 L244.01 155.54 L244.33 155.79 L244.65 156.04 L244.97 156.30 L245.29 156.56 L245.60 156.83 L245.92 157.11 L246.24 157.39 L246.56 157.67 L246.88 157.97 L247.19 158.27 L247.51 158.57 L247.83 158.88 L248.15 159.20 L248.47 159.53 L248.79 159.86 L249.10 160.20 L249.42 160.55 L249.74 160.90 L250.06 161.26 L250.38 161.63 L250.69 162.01 L251.01 162.40 L251.33 162.79 L251.65 163.20 L251.97 163.61 L252.28 164.04 L252.60 164.47 L252.92 164.91 L253.24 165.36 L253.56 165.83 L253.88 166.30 L254.19 166.79 L254.51 167.29 L254.83 167.79 L255.15 168.32 L255.47 168.85 L255.78 169.40 L256.10 169.96 L256.42 170.53 L256.74 171.12 L257.06 171.72 L257.38 172.34 L257.69 172.97 L258.01 173.62 L258.33 174.28 L258.65 174.97 L258.97 175.67 L259.28 176.38 L259.60 177.12 L259.92 177.87 L260.24 178.65 L260.56 179.45 L260.87 180.26 L261.19 181.10 L261.51 181.96 L261.83 182.85 L262.15 183.75 L262.47 184.69 L262.78 185.65 L263.10 186.63 L263.42 187.64 L263.74 188.69 L264.06 189.76 L264.37 190.86 L264.69 191.99 L265.01 193.16 L265.33 194.36 L265.65 195.59 L265.96 196.86 L266.28 198.17 L266.60 199.52 L266.92 200.91 L267.24 202.34 L267.56 203.82 L267.87 205.34 L268.19 206.90 L268.51 208.52 L268.83 210.18 L269.15 211.90 L269.46 213.67 L269.78 215.50 L270.10 217.38 L270.42 219.32 L270.74 221.33 L271.05 223.39 L271.37 225.51 L271.69 227.70 L272.01 229.95 L272.33 232.26 L272.64 234.63 L272.96 237.06 L273.28 239.55 L273.60 242.08 L273.92 244.64 L274.24 247.24 L274.55 249.84 L274.87 252.43 L275.19 254.99 L275.51 257.48 L275.83 259.87 L276.14 262.11 L276.46 264.15 L276.78 265.93 L277.10 267.42 L277.42 268.55 L277.74 269.28 L278.05 269.59 L278.37 269.48 L278.69 269.01 L279.01 268.19 L279.33 267.06 L279.64 265.64 L279.96 263.97 L280.28 262.10 L280.60 260.07 L280.92 257.91 L281.23 255.65 L281.55 253.33 L281.87 250.98 L282.19 248.61 L282.51 246.23 L282.83 243.88 L283.14 241.54 L283.46 239.24 L283.78 236.98 L284.10 234.76 L284.42 232.60 L284.73 230.48 L285.05 228.41 L285.37 226.39 L285.69 224.43 L286.01 222.52 L286.32 220.66 L286.64 218.85 L286.96 217.09 L287.28 215.38 L287.60 213.71 L287.92 212.09 L288.23 210.52 L288.55 208.99 L288.87 207.50 L289.19 206.06 L289.51 204.65 L289.82 203.28 L290.14 201.95 L290.46 200.65 L290.78 199.39 L291.10 198.16 L291.41 196.97 L291.73 195.80 L292.05 194.67 L292.37 193.56 L292.69 192.49 L293.00 191.44 L293.32 190.42 L293.64 189.43 L293.96 188.46 L294.28 187.51 L294.60 186.59 L294.91 185.69 L295.23 184.81 L295.55 183.96 L295.87 183.12 L296.19 182.31 L296.50 181.52 L296.82 180.74 L297.14 179.98 L297.46 179.24 L297.78 178.52 L298.10 177.82 L298.41 177.13 L298.73 176.46 L299.05 175.80 L299.37 175.16 L299.69 174.53 L300.00 173.92 L300.32 173.32 L300.64 172.73 L300.96 172.16 L301.28 171.60 L301.59 171.06 L301.91 170.52 L302.23 170.00 L302.55 169.48 L302.87 168.98 L303.19 168.49 L303.50 168.01 L303.82 167.54 L304.14 167.08 L304.46 166.63 L304.78 166.19 L305.09 165.76 L305.41 165.34 L305.73 164.93 L306.05 164.52 L306.37 164.13 L306.68 163.74 L307.00 163.36 L307.32 162.99 L307.64 162.62 L307.96 162.26 L308.28 161.91 L308.59 161.57 L308.91 161.23 L309.23 160.90 L309.55 160.58 L309.87 160.26 L310.18 159.95 L310.50 159.65 L310.82 159.35 L311.14 159.05 L311.46 158.76 L311.77 158.48 L312.09 158.21 L312.41 157.93 L312.73 157.67 L313.05 157.41 L313.36 157.15 L313.68 156.90 L314.00 156.65 L314.32 156.41 L314.64 156.17 L314.96 155.93 L315.27 155.70 L315.59 155.48 L315.91 155.26 L316.23 155.04 L316.55 154.83 L316.86 154.62 L317.18 154.41 L317.50 154.21 L317.82 154.01 L318.14 153.81 L318.46 153.62 L318.77 153.43 L319.09 153.25 L319.41 153.06 L319.73 152.88 L320.05 152.71 L320.36 152.54 L320.68 152.36 L321.00 152.20" fill="none" stroke="#f02020" stroke-width="1.4" stroke-dasharray="4.5 3.8"/>
<path d="M66.50 141.73 L66.82 141.62 L67.14 141.51 L67.45 141.42 L67.77 141.32 L68.09 141.23 L68.41 141.15 L68.73 141.07 L69.04 140.99 L69.36 140.92 L69.68 140.85 L70.00 140.79 L70.32 140.73 L70.64 140.67 L70.95 140.61 L71.27 140.56 L71.59 140.51 L71.91 140.46 L72.23 140.41 L72.54 140.37 L72.86 140.33 L73.18 140.29 L73.50 140.25 L73.82 140.22 L74.13 140.18 L74.45 140.15 L74.77 140.12 L75.09 140.09 L75.41 140.07 L75.73 140.04 L76.04 140.02 L76.36 139.99 L76.68 139.97 L77.00 139.95 L77.32 139.93 L77.63 139.91 L77.95 139.89 L78.27 139.87 L78.59 139.86 L78.91 139.84 L79.22 139.83 L79.54 139.82 L79.86 139.80 L80.18 139.79 L80.50 139.78 L80.82 139.77 L81.13 139.76 L81.45 139.75 L81.77 139.74 L82.09 139.73 L82.41 139.72 L82.72 139.71 L83.04 139.71 L83.36 139.70 L83.68 139.69 L84.00 139.69 L84.31 139.68 L84.63 139.68 L84.95 139.67 L85.27 139.67 L85.59 139.66 L85.91 139.66 L86.22 139.65 L86.54 139.65 L86.86 139.65 L87.18 139.64 L87.50 139.64 L87.81 139.64 L88.13 139.63 L88.45 139.63 L88.77 139.63 L89.09 139.63 L89.40 139.63 L89.72 139.63 L90.04 139.62 L90.36 139.62 L90.68 139.62 L91.00 139.62 L91.31 139.62 L91.63 139.62 L91.95 139.62 L92.27 139.62 L92.59 139.62 L92.90 139.62 L93.22 139.62 L93.54 139.62 L93.86 139.62 L94.18 139.62 L94.49 139.62 L94.81 139.62 L95.13 139.62 L95.45 139.62 L95.77 139.62 L96.09 139.62 L96.40 139.62 L96.72 139.62 L97.04 139.62 L97.36 139.62 L97.68 139.62 L97.99 139.62 L98.31 139.62 L98.63 139.62 L98.95 139.63 L99.27 139.63 L99.58 139.63 L99.90 139.63 L100.22 139.63 L100.54 139.63 L100.86 139.63 L101.18 139.63 L101.49 139.63 L101.81 139.64 L102.13 139.64 L102.45 139.64 L102.77 139.64 L103.08 139.64 L103.40 139.64 L103.72 139.65 L104.04 139.65 L104.36 139.65 L104.67 139.65 L104.99 139.65 L105.31 139.65 L105.63 139.66 L105.95 139.66 L106.27 139.66 L106.58 139.66 L106.90 139.66 L107.22 139.66 L107.54 139.67 L107.86 139.67 L108.17 139.67 L108.49 139.67 L108.81 139.67 L109.13 139.68 L109.45 139.68 L109.76 139.68 L110.08 139.68 L110.40 139.68 L110.72 139.69 L111.04 139.69 L111.36 139.69 L111.67 139.69 L111.99 139.70 L112.31 139.70 L112.63 139.70 L112.95 139.70 L113.26 139.71 L113.58 139.71 L113.90 139.71 L114.22 139.71 L114.54 139.72 L114.85 139.72 L115.17 139.72 L115.49 139.72 L115.81 139.73 L116.13 139.73 L116.45 139.73 L116.76 139.73 L117.08 139.74 L117.40 139.74 L117.72 139.74 L118.04 139.74 L118.35 139.75 L118.67 139.75 L118.99 139.75 L119.31 139.76 L119.63 139.76 L119.94 139.76 L120.26 139.76 L120.58 139.77 L120.90 139.77 L121.22 139.77 L121.54 139.78 L121.85 139.78 L122.17 139.78 L122.49 139.79 L122.81 139.79 L123.13 139.79 L123.44 139.80 L123.76 139.80 L124.08 139.80 L124.40 139.81 L124.72 139.81 L125.03 139.81 L125.35 139.82 L125.67 139.82 L125.99 139.82 L126.31 139.83 L126.63 139.83 L126.94 139.84 L127.26 139.84 L127.58 139.84 L127.90 139.85 L128.22 139.85 L128.53 139.85 L128.85 139.86 L129.17 139.86 L129.49 139.87 L129.81 139.87 L130.12 139.87 L130.44 139.88 L130.76 139.88 L131.08 139.89 L131.40 139.89 L131.72 139.90 L132.03 139.90 L132.35 139.90 L132.67 139.91 L132.99 139.91 L133.31 139.92 L133.62 139.92 L133.94 139.93 L134.26 139.93 L134.58 139.94 L134.90 139.94 L135.22 139.95 L135.53 139.95 L135.85 139.96 L136.17 139.96 L136.49 139.97 L136.81 139.97 L137.12 139.98 L137.44 139.98 L137.76 139.99 L138.08 139.99 L138.40 140.00 L138.71 140.00 L139.03 140.01 L139.35 140.02 L139.67 140.02 L139.99 140.03 L140.31 140.03 L140.62 140.04 L140.94 140.04 L141.26 140.05 L141.58 140.06 L141.90 140.06 L142.21 140.07 L142.53 140.08 L142.85 140.08 L143.17 140.09 L143.49 140.10 L143.80 140.10 L144.12 140.11 L144.44 140.12 L144.76 140.12 L145.08 140.13 L145.40 140.14 L145.71 140.14 L146.03 140.15 L146.35 140.16 L146.67 140.17 L146.99 140.17 L147.30 140.18 L147.62 140.19 L147.94 140.20 L148.26 140.21 L148.58 140.21 L148.89 140.22 L149.21 140.23 L149.53 140.24 L149.85 140.25 L150.17 140.26 L150.49 140.27 L150.80 140.27 L151.12 140.28 L151.44 140.29 L151.76 140.30 L152.08 140.31 L152.39 140.32 L152.71 140.33 L153.03 140.34 L153.35 140.35 L153.67 140.36 L153.98 140.37 L154.30 140.38 L154.62 140.39 L154.94 140.40 L155.26 140.41 L155.58 140.43 L155.89 140.44 L156.21 140.45 L156.53 140.46 L156.85 140.47 L157.17 140.48 L157.48 140.50 L157.80 140.51 L158.12 140.52 L158.44 140.53 L158.76 140.55 L159.07 140.56 L159.39 140.57 L159.71 140.59 L160.03 140.60 L160.35 140.61 L160.67 140.63 L160.98 140.64 L161.30 140.66 L161.62 140.67 L161.94 140.69 L162.26 140.70 L162.57 140.72 L162.89 140.74 L163.21 140.75 L163.53 140.77 L163.85 140.79 L164.16 140.80 L164.48 140.82 L164.80 140.84 L165.12 140.86 L165.44 140.87 L165.76 140.89 L166.07 140.91 L166.39 140.93 L166.71 140.95 L167.03 140.97 L167.35 140.99 L167.66 141.01 L167.98 141.03 L168.30 141.06 L168.62 141.08 L168.94 141.10 L169.25 141.12 L169.57 141.15 L169.89 141.17 L170.21 141.19 L170.53 141.22 L170.85 141.24 L171.16 141.27 L171.48 141.30 L171.80 141.32 L172.12 141.35 L172.44 141.38 L172.75 141.41 L173.07 141.43 L173.39 141.46 L173.71 141.49 L174.03 141.53 L174.34 141.56 L174.66 141.59 L174.98 141.62 L175.30 141.65 L175.62 141.69 L175.94 141.72 L176.25 141.76 L176.57 141.80 L176.89 141.83 L177.21 141.87 L177.53 141.91 L177.84 141.95 L178.16 141.99 L178.48 142.03 L178.80 142.08 L179.12 142.12 L179.43 142.17 L179.75 142.21 L180.07 142.26 L180.39 142.31 L180.71 142.36 L181.03 142.41 L181.34 142.46 L181.66 142.51 L181.98 142.57 L182.30 142.62 L182.62 142.68 L182.93 142.74 L183.25 142.80 L183.57 142.86 L183.89 142.92 L184.21 142.99 L184.52 143.06 L184.84 143.12 L185.16 143.19 L185.48 143.27 L185.80 143.34 L186.11 143.42 L186.43 143.50 L186.75 143.58 L187.07 143.66 L187.39 143.75 L187.71 143.84 L188.02 143.93 L188.34 144.02 L188.66 144.12 L188.98 144.22 L189.30 144.32 L189.61 144.42 L189.93 144.53 L190.25 144.64 L190.57 144.76 L190.89 144.88 L191.21 145.00 L191.52 145.13 L191.84 145.26 L192.16 145.40 L192.48 145.54 L192.80 145.68 L193.11 145.83 L193.43 145.99 L193.75 146.15 L194.07 146.31 L194.39 146.49 L194.70 146.67 L195.02 146.85 L195.34 147.04 L195.66 147.24 L195.98 147.45 L196.29 147.66 L196.61 147.88 L196.93 148.11 L197.25 148.35 L197.57 148.60 L197.89 148.86 L198.20 149.13 L198.52 149.40 L198.84 149.70 L199.16 150.00 L199.48 150.31 L199.79 150.64 L200.11 150.98 L200.43 151.34 L200.75 151.71 L201.07 152.10 L201.39 152.50 L201.70 152.93 L202.02 153.37 L202.34 153.83 L202.66 154.31 L202.98 154.81 L203.29 155.34 L203.61 155.89 L203.93 156.47 L204.25 157.07 L204.57 157.70 L204.88 158.36 L205.20 159.06 L205.52 159.78 L205.84 160.54 L206.16 161.34 L206.47 162.18 L206.79 163.05 L207.11 163.97 L207.43 164.93 L207.75 165.94 L208.07 167.00 L208.38 168.10 L208.70 169.26 L209.02 170.47 L209.34 171.74 L209.66 173.05 L209.97 174.43 L210.29 175.86 L210.61 177.35 L210.93 178.89 L211.25 180.49 L211.56 182.14 L211.88 183.82 L212.20 185.55 L212.52 187.31 L212.84 189.08 L213.16 190.85 L213.47 192.61 L213.79 194.34 L214.11 196.00 L214.43 197.58 L214.75 199.04 L215.06 200.35 L215.38 201.48 L215.70 202.40 L216.02 203.07 L216.34 203.49 L216.65 203.63 L216.97 203.54 L217.29 203.29 L217.61 202.88 L217.93 202.31 L218.25 201.60 L218.56 200.75 L218.88 199.79 L219.20 198.73 L219.52 197.59 L219.84 196.37 L220.15 195.09 L220.47 193.77 L220.79 192.43 L221.11 191.06 L221.43 189.68 L221.74 188.30 L222.06 186.92 L222.38 185.56 L222.70 184.21 L223.02 182.89 L223.34 181.59 L223.65 180.32 L223.97 179.08 L224.29 177.88 L224.61 176.70 L224.93 175.56 L225.24 174.45 L225.56 173.38 L225.88 172.34 L226.20 171.34 L226.52 170.36 L226.83 169.43 L227.15 168.52 L227.47 167.64 L227.79 166.80 L228.11 165.99 L228.43 165.20 L228.74 164.44 L229.06 163.71 L229.38 163.01 L229.70 162.33 L230.02 161.67 L230.33 161.04 L230.65 160.44 L230.97 159.85 L231.29 159.29 L231.61 158.74 L231.92 158.22 L232.24 157.71 L232.56 157.22 L232.88 156.75 L233.20 156.29 L233.52 155.86 L233.83 155.43 L234.15 155.02 L234.47 154.63 L234.79 154.25 L235.11 153.88 L235.42 153.52 L235.74 153.18 L236.06 152.85 L236.38 152.53 L236.70 152.22 L237.01 151.92 L237.33 151.63 L237.65 151.35 L237.97 151.07 L238.29 150.81 L238.61 150.56 L238.92 150.31 L239.24 150.07 L239.56 149.84 L239.88 149.62 L240.20 149.40 L240.51 149.19 L240.83 148.99 L241.15 148.79 L241.47 148.60 L241.79 148.41 L242.10 148.23 L242.42 148.06 L242.74 147.89 L243.06 147.72 L243.38 147.56 L243.70 147.41 L244.01 147.25 L244.33 147.11 L244.65 146.97 L244.97 146.83 L245.29 146.69 L245.60 146.56 L245.92 146.43 L246.24 146.31 L246.56 146.19 L246.88 146.07 L247.19 145.96 L247.51 145.85 L247.83 145.74 L248.15 145.63 L248.47 145.53 L248.79 145.43 L249.10 145.34 L249.42 145.24 L249.74 145.15 L250.06 145.06 L250.38 144.97 L250.69 144.89 L251.01 144.80 L251.33 144.72 L251.65 144.64 L251.97 144.57 L252.28 144.49 L252.60 144.42 L252.92 144.35 L253.24 144.28 L253.56 144.21 L253.88 144.14 L254.19 144.08 L254.51 144.02 L254.83 143.95 L255.15 143.89 L255.47 143.84 L255.78 143.78 L256.10 143.72 L256.42 143.67 L256.74 143.61 L257.06 143.56 L257.38 143.51 L257.69 143.46 L258.01 143.41 L258.33 143.37 L258.65 143.32 L258.97 143.28 L259.28 143.23 L259.60 143.19 L259.92 143.15 L260.24 143.11 L260.56 143.07 L260.87 143.03 L261.19 142.99 L261.51 142.95 L261.83 142.92 L262.15 142.88 L262.47 142.85 L262.78 142.81 L263.10 142.78 L263.42 142.75 L263.74 142.72 L264.06 142.69 L264.37 142.66 L264.69 142.63 L265.01 142.60 L265.33 142.57 L265.65 142.55 L265.96 142.52 L266.28 142.49 L266.60 142.47 L266.92 142.44 L267.24 142.42 L267.56 142.40 L267.87 142.38 L268.19 142.35 L268.51 142.33 L268.83 142.31 L269.15 142.29 L269.46 142.27 L269.78 142.25 L270.10 142.23 L270.42 142.22 L270.74 142.20 L271.05 142.18 L271.37 142.17 L271.69 142.15 L272.01 142.14 L272.33 142.12 L272.64 142.11 L272.96 142.09 L273.28 142.08 L273.60 142.07 L273.92 142.06 L274.24 142.04 L274.55 142.03 L274.87 142.02 L275.19 142.01 L275.51 142.00 L275.83 141.99 L276.14 141.98 L276.46 141.97 L276.78 141.97 L277.10 141.96 L277.42 141.95 L277.74 141.95 L278.05 141.94 L278.37 141.93 L278.69 141.93 L279.01 141.92 L279.33 141.92 L279.64 141.92 L279.96 141.91 L280.28 141.91 L280.60 141.91 L280.92 141.91 L281.23 141.90 L281.55 141.90 L281.87 141.90 L282.19 141.90 L282.51 141.90 L282.83 141.90 L283.14 141.90 L283.46 141.91 L283.78 141.91 L284.10 141.91 L284.42 141.92 L284.73 141.92 L285.05 141.92 L285.37 141.93 L285.69 141.93 L286.01 141.94 L286.32 141.95 L286.64 141.95 L286.96 141.96 L287.28 141.97 L287.60 141.98 L287.92 141.99 L288.23 142.00 L288.55 142.01 L288.87 142.02 L289.19 142.03 L289.51 142.04 L289.82 142.06 L290.14 142.07 L290.46 142.08 L290.78 142.10 L291.10 142.12 L291.41 142.13 L291.73 142.15 L292.05 142.17 L292.37 142.19 L292.69 142.21 L293.00 142.23 L293.32 142.25 L293.64 142.27 L293.96 142.29 L294.28 142.32 L294.60 142.34 L294.91 142.37 L295.23 142.40 L295.55 142.42 L295.87 142.45 L296.19 142.48 L296.50 142.51 L296.82 142.55 L297.14 142.58 L297.46 142.61 L297.78 142.65 L298.10 142.69 L298.41 142.73 L298.73 142.77 L299.05 142.81 L299.37 142.85 L299.69 142.90 L300.00 142.94 L300.32 142.99 L300.64 143.04 L300.96 143.09 L301.28 143.14 L301.59 143.20 L301.91 143.26 L302.23 143.32 L302.55 143.38 L302.87 143.44 L303.19 143.51 L303.50 143.58 L303.82 143.65 L304.14 143.72 L304.46 143.80 L304.78 143.88 L305.09 143.96 L305.41 144.04 L305.73 144.13 L306.05 144.22 L306.37 144.32 L306.68 144.42 L307.00 144.52 L307.32 144.63 L307.64 144.74 L307.96 144.85 L308.28 144.97 L308.59 145.10 L308.91 145.23 L309.23 145.36 L309.55 145.50 L309.87 145.65 L310.18 145.80 L310.50 145.96 L310.82 146.13 L311.14 146.30 L311.46 146.48 L311.77 146.67 L312.09 146.87 L312.41 147.07 L312.73 147.29 L313.05 147.51 L313.36 147.75 L313.68 147.99 L314.00 148.25 L314.32 148.52 L314.64 148.80 L314.96 149.10 L315.27 149.41 L315.59 149.73 L315.91 150.07 L316.23 150.43 L316.55 150.81 L316.86 151.20 L317.18 151.62 L317.50 152.05 L317.82 152.51 L318.14 152.99 L318.46 153.50 L318.77 154.03 L319.09 154.59 L319.41 155.18 L319.73 155.81 L320.05 156.46 L320.36 157.15 L320.68 157.88 L321.00 158.64" fill="none" stroke="#8c8c8c" stroke-width="1.35"/>
<path d="M66.50 141.74 L66.82 141.64 L67.14 141.53 L67.45 141.43 L67.77 141.34 L68.09 141.25 L68.41 141.17 L68.73 141.09 L69.04 141.01 L69.36 140.94 L69.68 140.87 L70.00 140.81 L70.32 140.74 L70.64 140.69 L70.95 140.63 L71.27 140.58 L71.59 140.53 L71.91 140.48 L72.23 140.43 L72.54 140.39 L72.86 140.35 L73.18 140.31 L73.50 140.27 L73.82 140.23 L74.13 140.20 L74.45 140.17 L74.77 140.14 L75.09 140.11 L75.41 140.08 L75.73 140.06 L76.04 140.03 L76.36 140.01 L76.68 139.99 L77.00 139.97 L77.32 139.95 L77.63 139.93 L77.95 139.91 L78.27 139.89 L78.59 139.88 L78.91 139.86 L79.22 139.85 L79.54 139.83 L79.86 139.82 L80.18 139.81 L80.50 139.80 L80.82 139.78 L81.13 139.77 L81.45 139.76 L81.77 139.75 L82.09 139.75 L82.41 139.74 L82.72 139.73 L83.04 139.72 L83.36 139.72 L83.68 139.71 L84.00 139.70 L84.31 139.70 L84.63 139.69 L84.95 139.69 L85.27 139.68 L85.59 139.68 L85.91 139.67 L86.22 139.67 L86.54 139.66 L86.86 139.66 L87.18 139.66 L87.50 139.66 L87.81 139.65 L88.13 139.65 L88.45 139.65 L88.77 139.65 L89.09 139.64 L89.40 139.64 L89.72 139.64 L90.04 139.64 L90.36 139.64 L90.68 139.64 L91.00 139.63 L91.31 139.63 L91.63 139.63 L91.95 139.63 L92.27 139.63 L92.59 139.63 L92.90 139.63 L93.22 139.63 L93.54 139.63 L93.86 139.63 L94.18 139.63 L94.49 139.63 L94.81 139.63 L95.13 139.63 L95.45 139.63 L95.77 139.63 L96.09 139.63 L96.40 139.63 L96.72 139.63 L97.04 139.63 L97.36 139.63 L97.68 139.63 L97.99 139.63 L98.31 139.63 L98.63 139.64 L98.95 139.64 L99.27 139.64 L99.58 139.64 L99.90 139.64 L100.22 139.64 L100.54 139.64 L100.86 139.64 L101.18 139.64 L101.49 139.64 L101.81 139.65 L102.13 139.65 L102.45 139.65 L102.77 139.65 L103.08 139.65 L103.40 139.65 L103.72 139.65 L104.04 139.65 L104.36 139.66 L104.67 139.66 L104.99 139.66 L105.31 139.66 L105.63 139.66 L105.95 139.66 L106.27 139.67 L106.58 139.67 L106.90 139.67 L107.22 139.67 L107.54 139.67 L107.86 139.67 L108.17 139.68 L108.49 139.68 L108.81 139.68 L109.13 139.68 L109.45 139.68 L109.76 139.68 L110.08 139.69 L110.40 139.69 L110.72 139.69 L111.04 139.69 L111.36 139.69 L111.67 139.70 L111.99 139.70 L112.31 139.70 L112.63 139.70 L112.95 139.70 L113.26 139.71 L113.58 139.71 L113.90 139.71 L114.22 139.71 L114.54 139.71 L114.85 139.72 L115.17 139.72 L115.49 139.72 L115.81 139.72 L116.13 139.73 L116.45 139.73 L116.76 139.73 L117.08 139.73 L117.40 139.73 L117.72 139.74 L118.04 139.74 L118.35 139.74 L118.67 139.74 L118.99 139.75 L119.31 139.75 L119.63 139.75 L119.94 139.75 L120.26 139.76 L120.58 139.76 L120.90 139.76 L121.22 139.76 L121.54 139.77 L121.85 139.77 L122.17 139.77 L122.49 139.77 L122.81 139.78 L123.13 139.78 L123.44 139.78 L123.76 139.79 L124.08 139.79 L124.40 139.79 L124.72 139.79 L125.03 139.80 L125.35 139.80 L125.67 139.80 L125.99 139.81 L126.31 139.81 L126.63 139.81 L126.94 139.81 L127.26 139.82 L127.58 139.82 L127.90 139.82 L128.22 139.83 L128.53 139.83 L128.85 139.83 L129.17 139.84 L129.49 139.84 L129.81 139.84 L130.12 139.85 L130.44 139.85 L130.76 139.85 L131.08 139.86 L131.40 139.86 L131.72 139.86 L132.03 139.87 L132.35 139.87 L132.67 139.87 L132.99 139.88 L133.31 139.88 L133.62 139.88 L133.94 139.89 L134.26 139.89 L134.58 139.89 L134.90 139.90 L135.22 139.90 L135.53 139.91 L135.85 139.91 L136.17 139.91 L136.49 139.92 L136.81 139.92 L137.12 139.93 L137.44 139.93 L137.76 139.93 L138.08 139.94 L138.40 139.94 L138.71 139.95 L139.03 139.95 L139.35 139.95 L139.67 139.96 L139.99 139.96 L140.31 139.97 L140.62 139.97 L140.94 139.98 L141.26 139.98 L141.58 139.99 L141.90 139.99 L142.21 139.99 L142.53 140.00 L142.85 140.00 L143.17 140.01 L143.49 140.01 L143.80 140.02 L144.12 140.02 L144.44 140.03 L144.76 140.03 L145.08 140.04 L145.40 140.04 L145.71 140.05 L146.03 140.05 L146.35 140.06 L146.67 140.07 L146.99 140.07 L147.30 140.08 L147.62 140.08 L147.94 140.09 L148.26 140.09 L148.58 140.10 L148.89 140.10 L149.21 140.11 L149.53 140.12 L149.85 140.12 L150.17 140.13 L150.49 140.13 L150.80 140.14 L151.12 140.15 L151.44 140.15 L151.76 140.16 L152.08 140.17 L152.39 140.17 L152.71 140.18 L153.03 140.19 L153.35 140.19 L153.67 140.20 L153.98 140.21 L154.30 140.21 L154.62 140.22 L154.94 140.23 L155.26 140.23 L155.58 140.24 L155.89 140.25 L156.21 140.26 L156.53 140.26 L156.85 140.27 L157.17 140.28 L157.48 140.29 L157.80 140.30 L158.12 140.30 L158.44 140.31 L158.76 140.32 L159.07 140.33 L159.39 140.34 L159.71 140.35 L160.03 140.35 L160.35 140.36 L160.67 140.37 L160.98 140.38 L161.30 140.39 L161.62 140.40 L161.94 140.41 L162.26 140.42 L162.57 140.43 L162.89 140.44 L163.21 140.45 L163.53 140.46 L163.85 140.47 L164.16 140.48 L164.48 140.49 L164.80 140.50 L165.12 140.51 L165.44 140.52 L165.76 140.53 L166.07 140.54 L166.39 140.55 L166.71 140.56 L167.03 140.57 L167.35 140.59 L167.66 140.60 L167.98 140.61 L168.30 140.62 L168.62 140.63 L168.94 140.65 L169.25 140.66 L169.57 140.67 L169.89 140.68 L170.21 140.70 L170.53 140.71 L170.85 140.72 L171.16 140.74 L171.48 140.75 L171.80 140.77 L172.12 140.78 L172.44 140.79 L172.75 140.81 L173.07 140.82 L173.39 140.84 L173.71 140.86 L174.03 140.87 L174.34 140.89 L174.66 140.90 L174.98 140.92 L175.30 140.94 L175.62 140.95 L175.94 140.97 L176.25 140.99 L176.57 141.00 L176.89 141.02 L177.21 141.04 L177.53 141.06 L177.84 141.08 L178.16 141.10 L178.48 141.12 L178.80 141.14 L179.12 141.16 L179.43 141.18 L179.75 141.20 L180.07 141.22 L180.39 141.24 L180.71 141.26 L181.03 141.28 L181.34 141.31 L181.66 141.33 L181.98 141.35 L182.30 141.38 L182.62 141.40 L182.93 141.42 L183.25 141.45 L183.57 141.47 L183.89 141.50 L184.21 141.53 L184.52 141.55 L184.84 141.58 L185.16 141.61 L185.48 141.64 L185.80 141.67 L186.11 141.70 L186.43 141.73 L186.75 141.76 L187.07 141.79 L187.39 141.82 L187.71 141.85 L188.02 141.88 L188.34 141.92 L188.66 141.95 L188.98 141.99 L189.30 142.02 L189.61 142.06 L189.93 142.09 L190.25 142.13 L190.57 142.17 L190.89 142.21 L191.21 142.25 L191.52 142.29 L191.84 142.33 L192.16 142.37 L192.48 142.42 L192.80 142.46 L193.11 142.51 L193.43 142.55 L193.75 142.60 L194.07 142.65 L194.39 142.70 L194.70 142.75 L195.02 142.80 L195.34 142.85 L195.66 142.90 L195.98 142.96 L196.29 143.02 L196.61 143.07 L196.93 143.13 L197.25 143.19 L197.57 143.25 L197.89 143.32 L198.20 143.38 L198.52 143.45 L198.84 143.52 L199.16 143.59 L199.48 143.66 L199.79 143.73 L200.11 143.80 L200.43 143.88 L200.75 143.96 L201.07 144.04 L201.39 144.12 L201.70 144.21 L202.02 144.29 L202.34 144.38 L202.66 144.47 L202.98 144.57 L203.29 144.67 L203.61 144.76 L203.93 144.87 L204.25 144.97 L204.57 145.08 L204.88 145.19 L205.20 145.30 L205.52 145.42 L205.84 145.54 L206.16 145.66 L206.47 145.79 L206.79 145.92 L207.11 146.06 L207.43 146.20 L207.75 146.34 L208.07 146.49 L208.38 146.64 L208.70 146.80 L209.02 146.96 L209.34 147.13 L209.66 147.30 L209.97 147.48 L210.29 147.66 L210.61 147.85 L210.93 148.05 L211.25 148.25 L211.56 148.46 L211.88 148.68 L212.20 148.90 L212.52 149.13 L212.84 149.37 L213.16 149.62 L213.47 149.88 L213.79 150.15 L214.11 150.42 L214.43 150.71 L214.75 151.00 L215.06 151.31 L215.38 151.63 L215.70 151.96 L216.02 152.31 L216.34 152.66 L216.65 153.03 L216.97 153.42 L217.29 153.82 L217.61 154.24 L217.93 154.67 L218.25 155.12 L218.56 155.59 L218.88 156.08 L219.20 156.59 L219.52 157.12 L219.84 157.68 L220.15 158.25 L220.47 158.86 L220.79 159.48 L221.11 160.14 L221.43 160.82 L221.74 161.54 L222.06 162.28 L222.38 163.06 L222.70 163.88 L223.02 164.73 L223.34 165.62 L223.65 166.55 L223.97 167.53 L224.29 168.55 L224.61 169.61 L224.93 170.73 L225.24 171.90 L225.56 173.12 L225.88 174.39 L226.20 175.73 L226.52 177.13 L226.83 178.58 L227.15 180.11 L227.47 181.70 L227.79 183.36 L228.11 185.09 L228.43 186.89 L228.74 188.76 L229.06 190.69 L229.38 192.69 L229.70 194.76 L230.02 196.88 L230.33 199.04 L230.65 201.25 L230.97 203.47 L231.29 205.68 L231.61 207.88 L231.92 210.02 L232.24 212.06 L232.56 213.97 L232.88 215.71 L233.20 217.21 L233.52 218.45 L233.83 219.36 L234.15 219.93 L234.47 220.12 L234.79 219.97 L235.11 219.51 L235.42 218.77 L235.74 217.76 L236.06 216.51 L236.38 215.06 L236.70 213.44 L237.01 211.69 L237.33 209.84 L237.65 207.91 L237.97 205.95 L238.29 203.95 L238.61 201.96 L238.92 199.97 L239.24 198.01 L239.56 196.08 L239.88 194.19 L240.20 192.35 L240.51 190.56 L240.83 188.83 L241.15 187.15 L241.47 185.52 L241.79 183.95 L242.10 182.44 L242.42 180.99 L242.74 179.59 L243.06 178.24 L243.38 176.94 L243.70 175.70 L244.01 174.50 L244.33 173.36 L244.65 172.25 L244.97 171.20 L245.29 170.18 L245.60 169.20 L245.92 168.27 L246.24 167.37 L246.56 166.51 L246.88 165.68 L247.19 164.88 L247.51 164.12 L247.83 163.38 L248.15 162.68 L248.47 162.00 L248.79 161.35 L249.10 160.72 L249.42 160.12 L249.74 159.54 L250.06 158.98 L250.38 158.45 L250.69 157.93 L251.01 157.43 L251.33 156.95 L251.65 156.49 L251.97 156.05 L252.28 155.62 L252.60 155.21 L252.92 154.81 L253.24 154.43 L253.56 154.06 L253.88 153.70 L254.19 153.36 L254.51 153.03 L254.83 152.70 L255.15 152.39 L255.47 152.10 L255.78 151.81 L256.10 151.53 L256.42 151.26 L256.74 150.99 L257.06 150.74 L257.38 150.50 L257.69 150.26 L258.01 150.03 L258.33 149.81 L258.65 149.59 L258.97 149.39 L259.28 149.19 L259.60 148.99 L259.92 148.80 L260.24 148.62 L260.56 148.44 L260.87 148.27 L261.19 148.10 L261.51 147.94 L261.83 147.78 L262.15 147.63 L262.47 147.48 L262.78 147.34 L263.10 147.20 L263.42 147.06 L263.74 146.93 L264.06 146.80 L264.37 146.68 L264.69 146.56 L265.01 146.44 L265.33 146.33 L265.65 146.22 L265.96 146.11 L266.28 146.01 L266.60 145.90 L266.92 145.81 L267.24 145.71 L267.56 145.62 L267.87 145.53 L268.19 145.44 L268.51 145.35 L268.83 145.27 L269.15 145.19 L269.46 145.11 L269.78 145.03 L270.10 144.96 L270.42 144.88 L270.74 144.81 L271.05 144.75 L271.37 144.68 L271.69 144.61 L272.01 144.55 L272.33 144.49 L272.64 144.43 L272.96 144.37 L273.28 144.32 L273.60 144.26 L273.92 144.21 L274.24 144.16 L274.55 144.10 L274.87 144.06 L275.19 144.01 L275.51 143.96 L275.83 143.92 L276.14 143.87 L276.46 143.83 L276.78 143.79 L277.10 143.75 L277.42 143.71 L277.74 143.67 L278.05 143.64 L278.37 143.60 L278.69 143.57 L279.01 143.54 L279.33 143.51 L279.64 143.47 L279.96 143.45 L280.28 143.42 L280.60 143.39 L280.92 143.36 L281.23 143.34 L281.55 143.31 L281.87 143.29 L282.19 143.27 L282.51 143.25 L282.83 143.22 L283.14 143.21 L283.46 143.19 L283.78 143.17 L284.10 143.15 L284.42 143.14 L284.73 143.12 L285.05 143.11 L285.37 143.09 L285.69 143.08 L286.01 143.07 L286.32 143.06 L286.64 143.05 L286.96 143.04 L287.28 143.03 L287.60 143.03 L287.92 143.02 L288.23 143.01 L288.55 143.01 L288.87 143.01 L289.19 143.00 L289.51 143.00 L289.82 143.00 L290.14 143.00 L290.46 143.00 L290.78 143.01 L291.10 143.01 L291.41 143.01 L291.73 143.02 L292.05 143.02 L292.37 143.03 L292.69 143.04 L293.00 143.05 L293.32 143.06 L293.64 143.07 L293.96 143.08 L294.28 143.10 L294.60 143.11 L294.91 143.13 L295.23 143.14 L295.55 143.16 L295.87 143.18 L296.19 143.20 L296.50 143.22 L296.82 143.25 L297.14 143.27 L297.46 143.30 L297.78 143.32 L298.10 143.35 L298.41 143.38 L298.73 143.42 L299.05 143.45 L299.37 143.48 L299.69 143.52 L300.00 143.56 L300.32 143.60 L300.64 143.64 L300.96 143.69 L301.28 143.73 L301.59 143.78 L301.91 143.83 L302.23 143.88 L302.55 143.94 L302.87 143.99 L303.19 144.05 L303.50 144.12 L303.82 144.18 L304.14 144.25 L304.46 144.32 L304.78 144.39 L305.09 144.47 L305.41 144.55 L305.73 144.63 L306.05 144.71 L306.37 144.80 L306.68 144.90 L307.00 144.99 L307.32 145.10 L307.64 145.20 L307.96 145.31 L308.28 145.43 L308.59 145.55 L308.91 145.67 L309.23 145.80 L309.55 145.94 L309.87 146.08 L310.18 146.23 L310.50 146.38 L310.82 146.54 L311.14 146.71 L311.46 146.89 L311.77 147.07 L312.09 147.26 L312.41 147.47 L312.73 147.68 L313.05 147.90 L313.36 148.13 L313.68 148.37 L314.00 148.62 L314.32 148.89 L314.64 149.17 L314.96 149.46 L315.27 149.77 L315.59 150.09 L315.91 150.42 L316.23 150.78 L316.55 151.15 L316.86 151.54 L317.18 151.95 L317.50 152.39 L317.82 152.84 L318.14 153.32 L318.46 153.82 L318.77 154.35 L319.09 154.91 L319.41 155.50 L319.73 156.12 L320.05 156.77 L320.36 157.46 L320.68 158.18 L321.00 158.94" fill="none" stroke="#c048b8" stroke-width="1.35"/>
<path d="M66.50 141.70 L66.82 141.59 L67.14 141.48 L67.45 141.39 L67.77 141.29 L68.09 141.20 L68.41 141.12 L68.73 141.04 L69.04 140.96 L69.36 140.89 L69.68 140.82 L70.00 140.76 L70.32 140.69 L70.64 140.64 L70.95 140.58 L71.27 140.53 L71.59 140.47 L71.91 140.43 L72.23 140.38 L72.54 140.34 L72.86 140.29 L73.18 140.26 L73.50 140.22 L73.82 140.18 L74.13 140.15 L74.45 140.12 L74.77 140.09 L75.09 140.06 L75.41 140.03 L75.73 140.00 L76.04 139.98 L76.36 139.95 L76.68 139.93 L77.00 139.91 L77.32 139.89 L77.63 139.87 L77.95 139.85 L78.27 139.84 L78.59 139.82 L78.91 139.80 L79.22 139.79 L79.54 139.77 L79.86 139.76 L80.18 139.75 L80.50 139.74 L80.82 139.73 L81.13 139.71 L81.45 139.70 L81.77 139.70 L82.09 139.69 L82.41 139.68 L82.72 139.67 L83.04 139.66 L83.36 139.65 L83.68 139.65 L84.00 139.64 L84.31 139.63 L84.63 139.63 L84.95 139.62 L85.27 139.62 L85.59 139.61 L85.91 139.61 L86.22 139.60 L86.54 139.60 L86.86 139.60 L87.18 139.59 L87.50 139.59 L87.81 139.59 L88.13 139.58 L88.45 139.58 L88.77 139.58 L89.09 139.58 L89.40 139.57 L89.72 139.57 L90.04 139.57 L90.36 139.57 L90.68 139.57 L91.00 139.56 L91.31 139.56 L91.63 139.56 L91.95 139.56 L92.27 139.56 L92.59 139.56 L92.90 139.56 L93.22 139.56 L93.54 139.56 L93.86 139.56 L94.18 139.56 L94.49 139.56 L94.81 139.56 L95.13 139.55 L95.45 139.55 L95.77 139.55 L96.09 139.55 L96.40 139.55 L96.72 139.55 L97.04 139.55 L97.36 139.55 L97.68 139.55 L97.99 139.56 L98.31 139.56 L98.63 139.56 L98.95 139.56 L99.27 139.56 L99.58 139.56 L99.90 139.56 L100.22 139.56 L100.54 139.56 L100.86 139.56 L101.18 139.56 L101.49 139.56 L101.81 139.56 L102.13 139.56 L102.45 139.56 L102.77 139.56 L103.08 139.56 L103.40 139.57 L103.72 139.57 L104.04 139.57 L104.36 139.57 L104.67 139.57 L104.99 139.57 L105.31 139.57 L105.63 139.57 L105.95 139.57 L106.27 139.57 L106.58 139.57 L106.90 139.58 L107.22 139.58 L107.54 139.58 L107.86 139.58 L108.17 139.58 L108.49 139.58 L108.81 139.58 L109.13 139.58 L109.45 139.59 L109.76 139.59 L110.08 139.59 L110.40 139.59 L110.72 139.59 L111.04 139.59 L111.36 139.59 L111.67 139.59 L111.99 139.60 L112.31 139.60 L112.63 139.60 L112.95 139.60 L113.26 139.60 L113.58 139.60 L113.90 139.60 L114.22 139.60 L114.54 139.61 L114.85 139.61 L115.17 139.61 L115.49 139.61 L115.81 139.61 L116.13 139.61 L116.45 139.62 L116.76 139.62 L117.08 139.62 L117.40 139.62 L117.72 139.62 L118.04 139.62 L118.35 139.62 L118.67 139.63 L118.99 139.63 L119.31 139.63 L119.63 139.63 L119.94 139.63 L120.26 139.63 L120.58 139.64 L120.90 139.64 L121.22 139.64 L121.54 139.64 L121.85 139.64 L122.17 139.64 L122.49 139.65 L122.81 139.65 L123.13 139.65 L123.44 139.65 L123.76 139.65 L124.08 139.66 L124.40 139.66 L124.72 139.66 L125.03 139.66 L125.35 139.66 L125.67 139.66 L125.99 139.67 L126.31 139.67 L126.63 139.67 L126.94 139.67 L127.26 139.67 L127.58 139.68 L127.90 139.68 L128.22 139.68 L128.53 139.68 L128.85 139.68 L129.17 139.69 L129.49 139.69 L129.81 139.69 L130.12 139.69 L130.44 139.70 L130.76 139.70 L131.08 139.70 L131.40 139.70 L131.72 139.70 L132.03 139.71 L132.35 139.71 L132.67 139.71 L132.99 139.71 L133.31 139.72 L133.62 139.72 L133.94 139.72 L134.26 139.72 L134.58 139.72 L134.90 139.73 L135.22 139.73 L135.53 139.73 L135.85 139.73 L136.17 139.74 L136.49 139.74 L136.81 139.74 L137.12 139.74 L137.44 139.75 L137.76 139.75 L138.08 139.75 L138.40 139.75 L138.71 139.76 L139.03 139.76 L139.35 139.76 L139.67 139.77 L139.99 139.77 L140.31 139.77 L140.62 139.77 L140.94 139.78 L141.26 139.78 L141.58 139.78 L141.90 139.79 L142.21 139.79 L142.53 139.79 L142.85 139.79 L143.17 139.80 L143.49 139.80 L143.80 139.80 L144.12 139.81 L144.44 139.81 L144.76 139.81 L145.08 139.82 L145.40 139.82 L145.71 139.82 L146.03 139.82 L146.35 139.83 L146.67 139.83 L146.99 139.83 L147.30 139.84 L147.62 139.84 L147.94 139.84 L148.26 139.85 L148.58 139.85 L148.89 139.86 L149.21 139.86 L149.53 139.86 L149.85 139.87 L150.17 139.87 L150.49 139.87 L150.80 139.88 L151.12 139.88 L151.44 139.88 L151.76 139.89 L152.08 139.89 L152.39 139.90 L152.71 139.90 L153.03 139.90 L153.35 139.91 L153.67 139.91 L153.98 139.92 L154.30 139.92 L154.62 139.92 L154.94 139.93 L155.26 139.93 L155.58 139.94 L155.89 139.94 L156.21 139.95 L156.53 139.95 L156.85 139.95 L157.17 139.96 L157.48 139.96 L157.80 139.97 L158.12 139.97 L158.44 139.98 L158.76 139.98 L159.07 139.99 L159.39 139.99 L159.71 140.00 L160.03 140.00 L160.35 140.01 L160.67 140.01 L160.98 140.02 L161.30 140.02 L161.62 140.03 L161.94 140.03 L162.26 140.04 L162.57 140.04 L162.89 140.05 L163.21 140.05 L163.53 140.06 L163.85 140.06 L164.16 140.07 L164.48 140.08 L164.80 140.08 L165.12 140.09 L165.44 140.09 L165.76 140.10 L166.07 140.11 L166.39 140.11 L166.71 140.12 L167.03 140.12 L167.35 140.13 L167.66 140.14 L167.98 140.14 L168.30 140.15 L168.62 140.16 L168.94 140.16 L169.25 140.17 L169.57 140.18 L169.89 140.18 L170.21 140.19 L170.53 140.20 L170.85 140.21 L171.16 140.21 L171.48 140.22 L171.80 140.23 L172.12 140.23 L172.44 140.24 L172.75 140.25 L173.07 140.26 L173.39 140.27 L173.71 140.27 L174.03 140.28 L174.34 140.29 L174.66 140.30 L174.98 140.31 L175.30 140.32 L175.62 140.32 L175.94 140.33 L176.25 140.34 L176.57 140.35 L176.89 140.36 L177.21 140.37 L177.53 140.38 L177.84 140.39 L178.16 140.40 L178.48 140.41 L178.80 140.42 L179.12 140.43 L179.43 140.44 L179.75 140.45 L180.07 140.46 L180.39 140.47 L180.71 140.48 L181.03 140.49 L181.34 140.50 L181.66 140.51 L181.98 140.52 L182.30 140.53 L182.62 140.55 L182.93 140.56 L183.25 140.57 L183.57 140.58 L183.89 140.59 L184.21 140.61 L184.52 140.62 L184.84 140.63 L185.16 140.64 L185.48 140.66 L185.80 140.67 L186.11 140.68 L186.43 140.70 L186.75 140.71 L187.07 140.73 L187.39 140.74 L187.71 140.76 L188.02 140.77 L188.34 140.78 L188.66 140.80 L188.98 140.82 L189.30 140.83 L189.61 140.85 L189.93 140.86 L190.25 140.88 L190.57 140.90 L190.89 140.91 L191.21 140.93 L191.52 140.95 L191.84 140.97 L192.16 140.98 L192.48 141.00 L192.80 141.02 L193.11 141.04 L193.43 141.06 L193.75 141.08 L194.07 141.10 L194.39 141.12 L194.70 141.14 L195.02 141.16 L195.34 141.18 L195.66 141.21 L195.98 141.23 L196.29 141.25 L196.61 141.27 L196.93 141.30 L197.25 141.32 L197.57 141.35 L197.89 141.37 L198.20 141.39 L198.52 141.42 L198.84 141.45 L199.16 141.47 L199.48 141.50 L199.79 141.53 L200.11 141.56 L200.43 141.58 L200.75 141.61 L201.07 141.64 L201.39 141.67 L201.70 141.70 L202.02 141.74 L202.34 141.77 L202.66 141.80 L202.98 141.83 L203.29 141.87 L203.61 141.90 L203.93 141.94 L204.25 141.98 L204.57 142.01 L204.88 142.05 L205.20 142.09 L205.52 142.13 L205.84 142.17 L206.16 142.21 L206.47 142.25 L206.79 142.29 L207.11 142.34 L207.43 142.38 L207.75 142.43 L208.07 142.48 L208.38 142.52 L208.70 142.57 L209.02 142.62 L209.34 142.67 L209.66 142.73 L209.97 142.78 L210.29 142.84 L210.61 142.89 L210.93 142.95 L211.25 143.01 L211.56 143.07 L211.88 143.13 L212.20 143.19 L212.52 143.26 L212.84 143.33 L213.16 143.40 L213.47 143.47 L213.79 143.54 L214.11 143.61 L214.43 143.69 L214.75 143.76 L215.06 143.84 L215.38 143.93 L215.70 144.01 L216.02 144.10 L216.34 144.19 L216.65 144.28 L216.97 144.37 L217.29 144.47 L217.61 144.57 L217.93 144.67 L218.25 144.77 L218.56 144.88 L218.88 144.99 L219.20 145.11 L219.52 145.23 L219.84 145.35 L220.15 145.47 L220.47 145.60 L220.79 145.73 L221.11 145.87 L221.43 146.01 L221.74 146.16 L222.06 146.31 L222.38 146.47 L222.70 146.63 L223.02 146.79 L223.34 146.97 L223.65 147.14 L223.97 147.33 L224.29 147.52 L224.61 147.71 L224.93 147.92 L225.24 148.13 L225.56 148.35 L225.88 148.57 L226.20 148.81 L226.52 149.05 L226.83 149.30 L227.15 149.56 L227.47 149.83 L227.79 150.12 L228.11 150.41 L228.43 150.71 L228.74 151.03 L229.06 151.36 L229.38 151.70 L229.70 152.06 L230.02 152.43 L230.33 152.82 L230.65 153.22 L230.97 153.64 L231.29 154.08 L231.61 154.54 L231.92 155.02 L232.24 155.51 L232.56 156.04 L232.88 156.58 L233.20 157.15 L233.52 157.75 L233.83 158.37 L234.15 159.02 L234.47 159.71 L234.79 160.43 L235.11 161.18 L235.42 161.97 L235.74 162.79 L236.06 163.66 L236.38 164.58 L236.70 165.54 L237.01 166.54 L237.33 167.61 L237.65 168.72 L237.97 169.89 L238.29 171.13 L238.61 172.43 L238.92 173.80 L239.24 175.25 L239.56 176.77 L239.88 178.38 L240.20 180.07 L240.51 181.85 L240.83 183.73 L241.15 185.71 L241.47 187.79 L241.79 189.99 L242.10 192.29 L242.42 194.72 L242.74 197.26 L243.06 199.91 L243.38 202.69 L243.70 205.56 L244.01 208.54 L244.33 211.59 L244.65 214.69 L244.97 217.80 L245.29 220.86 L245.60 223.81 L245.92 226.56 L246.24 229.00 L246.56 231.03 L246.88 232.53 L247.19 233.42 L247.51 233.64 L247.83 233.27 L248.15 232.40 L248.47 231.08 L248.79 229.35 L249.10 227.30 L249.42 224.99 L249.74 222.51 L250.06 219.90 L250.38 217.23 L250.69 214.53 L251.01 211.84 L251.33 209.18 L251.65 206.58 L251.97 204.05 L252.28 201.60 L252.60 199.23 L252.92 196.95 L253.24 194.75 L253.56 192.65 L253.88 190.63 L254.19 188.70 L254.51 186.85 L254.83 185.08 L255.15 183.40 L255.47 181.78 L255.78 180.24 L256.10 178.77 L256.42 177.37 L256.74 176.03 L257.06 174.74 L257.38 173.52 L257.69 172.35 L258.01 171.23 L258.33 170.16 L258.65 169.14 L258.97 168.17 L259.28 167.23 L259.60 166.34 L259.92 165.48 L260.24 164.67 L260.56 163.88 L260.87 163.13 L261.19 162.41 L261.51 161.72 L261.83 161.06 L262.15 160.43 L262.47 159.82 L262.78 159.24 L263.10 158.68 L263.42 158.14 L263.74 157.62 L264.06 157.13 L264.37 156.65 L264.69 156.19 L265.01 155.75 L265.33 155.33 L265.65 154.92 L265.96 154.53 L266.28 154.15 L266.60 153.79 L266.92 153.44 L267.24 153.10 L267.56 152.77 L267.87 152.46 L268.19 152.16 L268.51 151.86 L268.83 151.58 L269.15 151.31 L269.46 151.05 L269.78 150.80 L270.10 150.55 L270.42 150.32 L270.74 150.09 L271.05 149.87 L271.37 149.66 L271.69 149.45 L272.01 149.25 L272.33 149.06 L272.64 148.87 L272.96 148.69 L273.28 148.52 L273.60 148.35 L273.92 148.19 L274.24 148.03 L274.55 147.88 L274.87 147.73 L275.19 147.58 L275.51 147.45 L275.83 147.31 L276.14 147.18 L276.46 147.06 L276.78 146.93 L277.10 146.82 L277.42 146.70 L277.74 146.59 L278.05 146.48 L278.37 146.38 L278.69 146.28 L279.01 146.18 L279.33 146.09 L279.64 146.00 L279.96 145.91 L280.28 145.82 L280.60 145.74 L280.92 145.66 L281.23 145.58 L281.55 145.50 L281.87 145.43 L282.19 145.36 L282.51 145.29 L282.83 145.23 L283.14 145.16 L283.46 145.10 L283.78 145.04 L284.10 144.99 L284.42 144.93 L284.73 144.88 L285.05 144.83 L285.37 144.78 L285.69 144.73 L286.01 144.68 L286.32 144.64 L286.64 144.60 L286.96 144.56 L287.28 144.52 L287.60 144.48 L287.92 144.45 L288.23 144.41 L288.55 144.38 L288.87 144.35 L289.19 144.32 L289.51 144.29 L289.82 144.27 L290.14 144.25 L290.46 144.22 L290.78 144.20 L291.10 144.18 L291.41 144.16 L291.73 144.15 L292.05 144.13 L292.37 144.12 L292.69 144.11 L293.00 144.10 L293.32 144.09 L293.64 144.08 L293.96 144.08 L294.28 144.07 L294.60 144.07 L294.91 144.07 L295.23 144.07 L295.55 144.07 L295.87 144.07 L296.19 144.08 L296.50 144.08 L296.82 144.09 L297.14 144.10 L297.46 144.11 L297.78 144.13 L298.10 144.14 L298.41 144.16 L298.73 144.18 L299.05 144.20 L299.37 144.22 L299.69 144.25 L300.00 144.27 L300.32 144.30 L300.64 144.33 L300.96 144.37 L301.28 144.40 L301.59 144.44 L301.91 144.48 L302.23 144.52 L302.55 144.56 L302.87 144.61 L303.19 144.66 L303.50 144.71 L303.82 144.77 L304.14 144.83 L304.46 144.89 L304.78 144.95 L305.09 145.02 L305.41 145.09 L305.73 145.17 L306.05 145.24 L306.37 145.32 L306.68 145.41 L307.00 145.50 L307.32 145.59 L307.64 145.69 L307.96 145.80 L308.28 145.90 L308.59 146.02 L308.91 146.13 L309.23 146.26 L309.55 146.39 L309.87 146.52 L310.18 146.66 L310.50 146.81 L310.82 146.97 L311.14 147.13 L311.46 147.30 L311.77 147.48 L312.09 147.67 L312.41 147.86 L312.73 148.07 L313.05 148.28 L313.36 148.51 L313.68 148.75 L314.00 148.99 L314.32 149.25 L314.64 149.53 L314.96 149.81 L315.27 150.12 L315.59 150.43 L315.91 150.77 L316.23 151.12 L316.55 151.48 L316.86 151.87 L317.18 152.28 L317.50 152.71 L317.82 153.16 L318.14 153.63 L318.46 154.13 L318.77 154.66 L319.09 155.21 L319.41 155.79 L319.73 156.41 L320.05 157.06 L320.36 157.74 L320.68 158.46 L321.00 159.22" fill="none" stroke="#3050c0" stroke-width="1.35"/>
<path d="M66.50 141.69 L66.82 141.58 L67.14 141.48 L67.45 141.38 L67.77 141.29 L68.09 141.20 L68.41 141.11 L68.73 141.03 L69.04 140.96 L69.36 140.88 L69.68 140.81 L70.00 140.75 L70.32 140.69 L70.64 140.63 L70.95 140.57 L71.27 140.52 L71.59 140.47 L71.91 140.42 L72.23 140.37 L72.54 140.33 L72.86 140.29 L73.18 140.25 L73.50 140.21 L73.82 140.17 L74.13 140.14 L74.45 140.11 L74.77 140.08 L75.09 140.05 L75.41 140.02 L75.73 139.99 L76.04 139.97 L76.36 139.94 L76.68 139.92 L77.00 139.90 L77.32 139.88 L77.63 139.86 L77.95 139.84 L78.27 139.83 L78.59 139.81 L78.91 139.79 L79.22 139.78 L79.54 139.76 L79.86 139.75 L80.18 139.74 L80.50 139.73 L80.82 139.72 L81.13 139.70 L81.45 139.69 L81.77 139.68 L82.09 139.68 L82.41 139.67 L82.72 139.66 L83.04 139.65 L83.36 139.64 L83.68 139.64 L84.00 139.63 L84.31 139.62 L84.63 139.62 L84.95 139.61 L85.27 139.61 L85.59 139.60 L85.91 139.60 L86.22 139.59 L86.54 139.59 L86.86 139.58 L87.18 139.58 L87.50 139.58 L87.81 139.57 L88.13 139.57 L88.45 139.57 L88.77 139.57 L89.09 139.56 L89.40 139.56 L89.72 139.56 L90.04 139.56 L90.36 139.55 L90.68 139.55 L91.00 139.55 L91.31 139.55 L91.63 139.55 L91.95 139.55 L92.27 139.55 L92.59 139.54 L92.90 139.54 L93.22 139.54 L93.54 139.54 L93.86 139.54 L94.18 139.54 L94.49 139.54 L94.81 139.54 L95.13 139.54 L95.45 139.54 L95.77 139.54 L96.09 139.54 L96.40 139.54 L96.72 139.54 L97.04 139.54 L97.36 139.54 L97.68 139.54 L97.99 139.54 L98.31 139.54 L98.63 139.54 L98.95 139.54 L99.27 139.54 L99.58 139.54 L99.90 139.54 L100.22 139.54 L100.54 139.54 L100.86 139.54 L101.18 139.54 L101.49 139.54 L101.81 139.54 L102.13 139.54 L102.45 139.54 L102.77 139.55 L103.08 139.55 L103.40 139.55 L103.72 139.55 L104.04 139.55 L104.36 139.55 L104.67 139.55 L104.99 139.55 L105.31 139.55 L105.63 139.55 L105.95 139.55 L106.27 139.55 L106.58 139.55 L106.90 139.56 L107.22 139.56 L107.54 139.56 L107.86 139.56 L108.17 139.56 L108.49 139.56 L108.81 139.56 L109.13 139.56 L109.45 139.56 L109.76 139.56 L110.08 139.57 L110.40 139.57 L110.72 139.57 L111.04 139.57 L111.36 139.57 L111.67 139.57 L111.99 139.57 L112.31 139.57 L112.63 139.57 L112.95 139.58 L113.26 139.58 L113.58 139.58 L113.90 139.58 L114.22 139.58 L114.54 139.58 L114.85 139.58 L115.17 139.58 L115.49 139.59 L115.81 139.59 L116.13 139.59 L116.45 139.59 L116.76 139.59 L117.08 139.59 L117.40 139.59 L117.72 139.59 L118.04 139.60 L118.35 139.60 L118.67 139.60 L118.99 139.60 L119.31 139.60 L119.63 139.60 L119.94 139.60 L120.26 139.60 L120.58 139.61 L120.90 139.61 L121.22 139.61 L121.54 139.61 L121.85 139.61 L122.17 139.61 L122.49 139.62 L122.81 139.62 L123.13 139.62 L123.44 139.62 L123.76 139.62 L124.08 139.62 L124.40 139.62 L124.72 139.63 L125.03 139.63 L125.35 139.63 L125.67 139.63 L125.99 139.63 L126.31 139.63 L126.63 139.64 L126.94 139.64 L127.26 139.64 L127.58 139.64 L127.90 139.64 L128.22 139.64 L128.53 139.65 L128.85 139.65 L129.17 139.65 L129.49 139.65 L129.81 139.65 L130.12 139.65 L130.44 139.66 L130.76 139.66 L131.08 139.66 L131.40 139.66 L131.72 139.66 L132.03 139.66 L132.35 139.67 L132.67 139.67 L132.99 139.67 L133.31 139.67 L133.62 139.67 L133.94 139.68 L134.26 139.68 L134.58 139.68 L134.90 139.68 L135.22 139.68 L135.53 139.69 L135.85 139.69 L136.17 139.69 L136.49 139.69 L136.81 139.69 L137.12 139.70 L137.44 139.70 L137.76 139.70 L138.08 139.70 L138.40 139.70 L138.71 139.71 L139.03 139.71 L139.35 139.71 L139.67 139.71 L139.99 139.72 L140.31 139.72 L140.62 139.72 L140.94 139.72 L141.26 139.72 L141.58 139.73 L141.90 139.73 L142.21 139.73 L142.53 139.73 L142.85 139.74 L143.17 139.74 L143.49 139.74 L143.80 139.74 L144.12 139.75 L144.44 139.75 L144.76 139.75 L145.08 139.75 L145.40 139.76 L145.71 139.76 L146.03 139.76 L146.35 139.76 L146.67 139.77 L146.99 139.77 L147.30 139.77 L147.62 139.77 L147.94 139.78 L148.26 139.78 L148.58 139.78 L148.89 139.78 L149.21 139.79 L149.53 139.79 L149.85 139.79 L150.17 139.80 L150.49 139.80 L150.80 139.80 L151.12 139.80 L151.44 139.81 L151.76 139.81 L152.08 139.81 L152.39 139.82 L152.71 139.82 L153.03 139.82 L153.35 139.83 L153.67 139.83 L153.98 139.83 L154.30 139.84 L154.62 139.84 L154.94 139.84 L155.26 139.85 L155.58 139.85 L155.89 139.85 L156.21 139.86 L156.53 139.86 L156.85 139.86 L157.17 139.87 L157.48 139.87 L157.80 139.87 L158.12 139.88 L158.44 139.88 L158.76 139.88 L159.07 139.89 L159.39 139.89 L159.71 139.89 L160.03 139.90 L160.35 139.90 L160.67 139.91 L160.98 139.91 L161.30 139.91 L161.62 139.92 L161.94 139.92 L162.26 139.93 L162.57 139.93 L162.89 139.93 L163.21 139.94 L163.53 139.94 L163.85 139.95 L164.16 139.95 L164.48 139.95 L164.80 139.96 L165.12 139.96 L165.44 139.97 L165.76 139.97 L166.07 139.98 L166.39 139.98 L166.71 139.99 L167.03 139.99 L167.35 139.99 L167.66 140.00 L167.98 140.00 L168.30 140.01 L168.62 140.01 L168.94 140.02 L169.25 140.02 L169.57 140.03 L169.89 140.03 L170.21 140.04 L170.53 140.04 L170.85 140.05 L171.16 140.05 L171.48 140.06 L171.80 140.06 L172.12 140.07 L172.44 140.08 L172.75 140.08 L173.07 140.09 L173.39 140.09 L173.71 140.10 L174.03 140.10 L174.34 140.11 L174.66 140.12 L174.98 140.12 L175.30 140.13 L175.62 140.13 L175.94 140.14 L176.25 140.15 L176.57 140.15 L176.89 140.16 L177.21 140.16 L177.53 140.17 L177.84 140.18 L178.16 140.18 L178.48 140.19 L178.80 140.20 L179.12 140.21 L179.43 140.21 L179.75 140.22 L180.07 140.23 L180.39 140.23 L180.71 140.24 L181.03 140.25 L181.34 140.26 L181.66 140.26 L181.98 140.27 L182.30 140.28 L182.62 140.29 L182.93 140.29 L183.25 140.30 L183.57 140.31 L183.89 140.32 L184.21 140.33 L184.52 140.33 L184.84 140.34 L185.16 140.35 L185.48 140.36 L185.80 140.37 L186.11 140.38 L186.43 140.39 L186.75 140.40 L187.07 140.41 L187.39 140.42 L187.71 140.42 L188.02 140.43 L188.34 140.44 L188.66 140.45 L188.98 140.46 L189.30 140.47 L189.61 140.48 L189.93 140.49 L190.25 140.50 L190.57 140.52 L190.89 140.53 L191.21 140.54 L191.52 140.55 L191.84 140.56 L192.16 140.57 L192.48 140.58 L192.80 140.59 L193.11 140.61 L193.43 140.62 L193.75 140.63 L194.07 140.64 L194.39 140.66 L194.70 140.67 L195.02 140.68 L195.34 140.69 L195.66 140.71 L195.98 140.72 L196.29 140.73 L196.61 140.75 L196.93 140.76 L197.25 140.78 L197.57 140.79 L197.89 140.81 L198.20 140.82 L198.52 140.84 L198.84 140.85 L199.16 140.87 L199.48 140.88 L199.79 140.90 L200.11 140.91 L200.43 140.93 L200.75 140.95 L201.07 140.96 L201.39 140.98 L201.70 141.00 L202.02 141.02 L202.34 141.04 L202.66 141.05 L202.98 141.07 L203.29 141.09 L203.61 141.11 L203.93 141.13 L204.25 141.15 L204.57 141.17 L204.88 141.19 L205.20 141.21 L205.52 141.23 L205.84 141.25 L206.16 141.28 L206.47 141.30 L206.79 141.32 L207.11 141.35 L207.43 141.37 L207.75 141.39 L208.07 141.42 L208.38 141.44 L208.70 141.47 L209.02 141.49 L209.34 141.52 L209.66 141.55 L209.97 141.57 L210.29 141.60 L210.61 141.63 L210.93 141.66 L211.25 141.69 L211.56 141.72 L211.88 141.75 L212.20 141.78 L212.52 141.81 L212.84 141.84 L213.16 141.87 L213.47 141.91 L213.79 141.94 L214.11 141.98 L214.43 142.01 L214.75 142.05 L215.06 142.08 L215.38 142.12 L215.70 142.16 L216.02 142.20 L216.34 142.24 L216.65 142.28 L216.97 142.32 L217.29 142.36 L217.61 142.41 L217.93 142.45 L218.25 142.50 L218.56 142.54 L218.88 142.59 L219.20 142.64 L219.52 142.69 L219.84 142.74 L220.15 142.79 L220.47 142.84 L220.79 142.90 L221.11 142.95 L221.43 143.01 L221.74 143.06 L222.06 143.12 L222.38 143.18 L222.70 143.25 L223.02 143.31 L223.34 143.37 L223.65 143.44 L223.97 143.51 L224.29 143.58 L224.61 143.65 L224.93 143.72 L225.24 143.80 L225.56 143.88 L225.88 143.96 L226.20 144.04 L226.52 144.12 L226.83 144.21 L227.15 144.29 L227.47 144.38 L227.79 144.48 L228.11 144.57 L228.43 144.67 L228.74 144.77 L229.06 144.87 L229.38 144.98 L229.70 145.09 L230.02 145.20 L230.33 145.31 L230.65 145.43 L230.97 145.56 L231.29 145.68 L231.61 145.81 L231.92 145.95 L232.24 146.08 L232.56 146.23 L232.88 146.37 L233.20 146.52 L233.52 146.68 L233.83 146.84 L234.15 147.01 L234.47 147.18 L234.79 147.35 L235.11 147.54 L235.42 147.73 L235.74 147.92 L236.06 148.12 L236.38 148.33 L236.70 148.55 L237.01 148.77 L237.33 149.00 L237.65 149.24 L237.97 149.49 L238.29 149.75 L238.61 150.02 L238.92 150.30 L239.24 150.59 L239.56 150.88 L239.88 151.19 L240.20 151.52 L240.51 151.85 L240.83 152.20 L241.15 152.56 L241.47 152.94 L241.79 153.33 L242.10 153.74 L242.42 154.17 L242.74 154.61 L243.06 155.08 L243.38 155.56 L243.70 156.06 L244.01 156.59 L244.33 157.14 L244.65 157.71 L244.97 158.31 L245.29 158.94 L245.60 159.60 L245.92 160.28 L246.24 161.01 L246.56 161.76 L246.88 162.55 L247.19 163.38 L247.51 164.25 L247.83 165.16 L248.15 166.12 L248.47 167.13 L248.79 168.19 L249.10 169.31 L249.42 170.48 L249.74 171.72 L250.06 173.02 L250.38 174.39 L250.69 175.83 L251.01 177.35 L251.33 178.96 L251.65 180.66 L251.97 182.45 L252.28 184.33 L252.60 186.33 L252.92 188.44 L253.24 190.67 L253.56 193.02 L253.88 195.50 L254.19 198.12 L254.51 200.89 L254.83 203.80 L255.15 206.86 L255.47 210.07 L255.78 213.43 L256.10 216.91 L256.42 220.51 L256.74 224.18 L257.06 227.88 L257.38 231.53 L257.69 235.02 L258.01 238.23 L258.33 240.99 L258.65 243.13 L258.97 244.50 L259.28 244.97 L259.60 244.64 L259.92 243.67 L260.24 242.10 L260.56 240.05 L260.87 237.59 L261.19 234.85 L261.51 231.91 L261.83 228.85 L262.15 225.75 L262.47 222.64 L262.78 219.56 L263.10 216.55 L263.42 213.62 L263.74 210.79 L264.06 208.05 L264.37 205.43 L264.69 202.90 L265.01 200.49 L265.33 198.18 L265.65 195.97 L265.96 193.86 L266.28 191.85 L266.60 189.92 L266.92 188.09 L267.24 186.33 L267.56 184.66 L267.87 183.06 L268.19 181.54 L268.51 180.08 L268.83 178.69 L269.15 177.37 L269.46 176.10 L269.78 174.88 L270.10 173.72 L270.42 172.61 L270.74 171.55 L271.05 170.54 L271.37 169.57 L271.69 168.64 L272.01 167.74 L272.33 166.89 L272.64 166.07 L272.96 165.29 L273.28 164.54 L273.60 163.82 L273.92 163.12 L274.24 162.46 L274.55 161.82 L274.87 161.21 L275.19 160.62 L275.51 160.06 L275.83 159.51 L276.14 158.99 L276.46 158.49 L276.78 158.01 L277.10 157.54 L277.42 157.10 L277.74 156.67 L278.05 156.25 L278.37 155.85 L278.69 155.47 L279.01 155.10 L279.33 154.74 L279.64 154.40 L279.96 154.07 L280.28 153.75 L280.60 153.44 L280.92 153.14 L281.23 152.86 L281.55 152.58 L281.87 152.31 L282.19 152.06 L282.51 151.81 L282.83 151.57 L283.14 151.34 L283.46 151.11 L283.78 150.90 L284.10 150.69 L284.42 150.49 L284.73 150.29 L285.05 150.10 L285.37 149.92 L285.69 149.75 L286.01 149.58 L286.32 149.41 L286.64 149.26 L286.96 149.10 L287.28 148.96 L287.60 148.82 L287.92 148.68 L288.23 148.55 L288.55 148.42 L288.87 148.30 L289.19 148.18 L289.51 148.06 L289.82 147.95 L290.14 147.85 L290.46 147.74 L290.78 147.65 L291.10 147.55 L291.41 147.46 L291.73 147.37 L292.05 147.29 L292.37 147.21 L292.69 147.13 L293.00 147.06 L293.32 146.99 L293.64 146.92 L293.96 146.86 L294.28 146.80 L294.60 146.74 L294.91 146.69 L295.23 146.64 L295.55 146.59 L295.87 146.54 L296.19 146.50 L296.50 146.46 L296.82 146.42 L297.14 146.39 L297.46 146.36 L297.78 146.33 L298.10 146.30 L298.41 146.28 L298.73 146.26 L299.05 146.24 L299.37 146.23 L299.69 146.22 L300.00 146.21 L300.32 146.20 L300.64 146.20 L300.96 146.20 L301.28 146.20 L301.59 146.21 L301.91 146.22 L302.23 146.23 L302.55 146.24 L302.87 146.26 L303.19 146.28 L303.50 146.31 L303.82 146.34 L304.14 146.37 L304.46 146.41 L304.78 146.45 L305.09 146.49 L305.41 146.54 L305.73 146.59 L306.05 146.64 L306.37 146.70 L306.68 146.77 L307.00 146.83 L307.32 146.91 L307.64 146.99 L307.96 147.07 L308.28 147.16 L308.59 147.25 L308.91 147.35 L309.23 147.46 L309.55 147.57 L309.87 147.68 L310.18 147.81 L310.50 147.94 L310.82 148.08 L311.14 148.23 L311.46 148.38 L311.77 148.54 L312.09 148.72 L312.41 148.90 L312.73 149.09 L313.05 149.29 L313.36 149.50 L313.68 149.72 L314.00 149.96 L314.32 150.20 L314.64 150.46 L314.96 150.74 L315.27 151.03 L315.59 151.33 L315.91 151.65 L316.23 151.99 L316.55 152.35 L316.86 152.72 L317.18 153.12 L317.50 153.54 L317.82 153.97 L318.14 154.44 L318.46 154.93 L318.77 155.44 L319.09 155.99 L319.41 156.56 L319.73 157.17 L320.05 157.81 L320.36 158.48 L320.68 159.19 L321.00 159.94" fill="none" stroke="#108040" stroke-width="1.35"/>
<path d="M66.50 141.69 L66.82 141.58 L67.14 141.48 L67.45 141.38 L67.77 141.29 L68.09 141.20 L68.41 141.11 L68.73 141.03 L69.04 140.96 L69.36 140.88 L69.68 140.82 L70.00 140.75 L70.32 140.69 L70.64 140.63 L70.95 140.57 L71.27 140.52 L71.59 140.47 L71.91 140.42 L72.23 140.37 L72.54 140.33 L72.86 140.29 L73.18 140.25 L73.50 140.21 L73.82 140.17 L74.13 140.14 L74.45 140.11 L74.77 140.08 L75.09 140.05 L75.41 140.02 L75.73 139.99 L76.04 139.97 L76.36 139.95 L76.68 139.92 L77.00 139.90 L77.32 139.88 L77.63 139.86 L77.95 139.84 L78.27 139.83 L78.59 139.81 L78.91 139.79 L79.22 139.78 L79.54 139.76 L79.86 139.75 L80.18 139.74 L80.50 139.73 L80.82 139.72 L81.13 139.70 L81.45 139.69 L81.77 139.68 L82.09 139.68 L82.41 139.67 L82.72 139.66 L83.04 139.65 L83.36 139.64 L83.68 139.64 L84.00 139.63 L84.31 139.62 L84.63 139.62 L84.95 139.61 L85.27 139.61 L85.59 139.60 L85.91 139.60 L86.22 139.59 L86.54 139.59 L86.86 139.58 L87.18 139.58 L87.50 139.58 L87.81 139.57 L88.13 139.57 L88.45 139.57 L88.77 139.56 L89.09 139.56 L89.40 139.56 L89.72 139.56 L90.04 139.55 L90.36 139.55 L90.68 139.55 L91.00 139.55 L91.31 139.55 L91.63 139.55 L91.95 139.54 L92.27 139.54 L92.59 139.54 L92.90 139.54 L93.22 139.54 L93.54 139.54 L93.86 139.54 L94.18 139.54 L94.49 139.54 L94.81 139.54 L95.13 139.54 L95.45 139.54 L95.77 139.54 L96.09 139.54 L96.40 139.54 L96.72 139.53 L97.04 139.53 L97.36 139.53 L97.68 139.53 L97.99 139.53 L98.31 139.53 L98.63 139.53 L98.95 139.54 L99.27 139.54 L99.58 139.54 L99.90 139.54 L100.22 139.54 L100.54 139.54 L100.86 139.54 L101.18 139.54 L101.49 139.54 L101.81 139.54 L102.13 139.54 L102.45 139.54 L102.77 139.54 L103.08 139.54 L103.40 139.54 L103.72 139.54 L104.04 139.54 L104.36 139.54 L104.67 139.54 L104.99 139.54 L105.31 139.54 L105.63 139.54 L105.95 139.55 L106.27 139.55 L106.58 139.55 L106.90 139.55 L107.22 139.55 L107.54 139.55 L107.86 139.55 L108.17 139.55 L108.49 139.55 L108.81 139.55 L109.13 139.55 L109.45 139.55 L109.76 139.56 L110.08 139.56 L110.40 139.56 L110.72 139.56 L111.04 139.56 L111.36 139.56 L111.67 139.56 L111.99 139.56 L112.31 139.56 L112.63 139.56 L112.95 139.56 L113.26 139.57 L113.58 139.57 L113.90 139.57 L114.22 139.57 L114.54 139.57 L114.85 139.57 L115.17 139.57 L115.49 139.57 L115.81 139.57 L116.13 139.58 L116.45 139.58 L116.76 139.58 L117.08 139.58 L117.40 139.58 L117.72 139.58 L118.04 139.58 L118.35 139.58 L118.67 139.58 L118.99 139.59 L119.31 139.59 L119.63 139.59 L119.94 139.59 L120.26 139.59 L120.58 139.59 L120.90 139.59 L121.22 139.59 L121.54 139.59 L121.85 139.60 L122.17 139.60 L122.49 139.60 L122.81 139.60 L123.13 139.60 L123.44 139.60 L123.76 139.60 L124.08 139.60 L124.40 139.61 L124.72 139.61 L125.03 139.61 L125.35 139.61 L125.67 139.61 L125.99 139.61 L126.31 139.61 L126.63 139.62 L126.94 139.62 L127.26 139.62 L127.58 139.62 L127.90 139.62 L128.22 139.62 L128.53 139.62 L128.85 139.63 L129.17 139.63 L129.49 139.63 L129.81 139.63 L130.12 139.63 L130.44 139.63 L130.76 139.63 L131.08 139.64 L131.40 139.64 L131.72 139.64 L132.03 139.64 L132.35 139.64 L132.67 139.64 L132.99 139.64 L133.31 139.65 L133.62 139.65 L133.94 139.65 L134.26 139.65 L134.58 139.65 L134.90 139.65 L135.22 139.66 L135.53 139.66 L135.85 139.66 L136.17 139.66 L136.49 139.66 L136.81 139.66 L137.12 139.67 L137.44 139.67 L137.76 139.67 L138.08 139.67 L138.40 139.67 L138.71 139.67 L139.03 139.68 L139.35 139.68 L139.67 139.68 L139.99 139.68 L140.31 139.68 L140.62 139.68 L140.94 139.69 L141.26 139.69 L141.58 139.69 L141.90 139.69 L142.21 139.69 L142.53 139.70 L142.85 139.70 L143.17 139.70 L143.49 139.70 L143.80 139.70 L144.12 139.71 L144.44 139.71 L144.76 139.71 L145.08 139.71 L145.40 139.71 L145.71 139.71 L146.03 139.72 L146.35 139.72 L146.67 139.72 L146.99 139.72 L147.30 139.73 L147.62 139.73 L147.94 139.73 L148.26 139.73 L148.58 139.73 L148.89 139.74 L149.21 139.74 L149.53 139.74 L149.85 139.74 L150.17 139.74 L150.49 139.75 L150.80 139.75 L151.12 139.75 L151.44 139.75 L151.76 139.76 L152.08 139.76 L152.39 139.76 L152.71 139.76 L153.03 139.77 L153.35 139.77 L153.67 139.77 L153.98 139.77 L154.30 139.77 L154.62 139.78 L154.94 139.78 L155.26 139.78 L155.58 139.78 L155.89 139.79 L156.21 139.79 L156.53 139.79 L156.85 139.79 L157.17 139.80 L157.48 139.80 L157.80 139.80 L158.12 139.81 L158.44 139.81 L158.76 139.81 L159.07 139.81 L159.39 139.82 L159.71 139.82 L160.03 139.82 L160.35 139.82 L160.67 139.83 L160.98 139.83 L161.30 139.83 L161.62 139.84 L161.94 139.84 L162.26 139.84 L162.57 139.84 L162.89 139.85 L163.21 139.85 L163.53 139.85 L163.85 139.86 L164.16 139.86 L164.48 139.86 L164.80 139.87 L165.12 139.87 L165.44 139.87 L165.76 139.88 L166.07 139.88 L166.39 139.88 L166.71 139.88 L167.03 139.89 L167.35 139.89 L167.66 139.89 L167.98 139.90 L168.30 139.90 L168.62 139.90 L168.94 139.91 L169.25 139.91 L169.57 139.92 L169.89 139.92 L170.21 139.92 L170.53 139.93 L170.85 139.93 L171.16 139.93 L171.48 139.94 L171.80 139.94 L172.12 139.94 L172.44 139.95 L172.75 139.95 L173.07 139.96 L173.39 139.96 L173.71 139.96 L174.03 139.97 L174.34 139.97 L174.66 139.98 L174.98 139.98 L175.30 139.98 L175.62 139.99 L175.94 139.99 L176.25 140.00 L176.57 140.00 L176.89 140.01 L177.21 140.01 L177.53 140.01 L177.84 140.02 L178.16 140.02 L178.48 140.03 L178.80 140.03 L179.12 140.04 L179.43 140.04 L179.75 140.05 L180.07 140.05 L180.39 140.05 L180.71 140.06 L181.03 140.06 L181.34 140.07 L181.66 140.07 L181.98 140.08 L182.30 140.08 L182.62 140.09 L182.93 140.09 L183.25 140.10 L183.57 140.10 L183.89 140.11 L184.21 140.11 L184.52 140.12 L184.84 140.13 L185.16 140.13 L185.48 140.14 L185.80 140.14 L186.11 140.15 L186.43 140.15 L186.75 140.16 L187.07 140.16 L187.39 140.17 L187.71 140.18 L188.02 140.18 L188.34 140.19 L188.66 140.19 L188.98 140.20 L189.30 140.21 L189.61 140.21 L189.93 140.22 L190.25 140.23 L190.57 140.23 L190.89 140.24 L191.21 140.25 L191.52 140.25 L191.84 140.26 L192.16 140.27 L192.48 140.27 L192.80 140.28 L193.11 140.29 L193.43 140.29 L193.75 140.30 L194.07 140.31 L194.39 140.31 L194.70 140.32 L195.02 140.33 L195.34 140.34 L195.66 140.34 L195.98 140.35 L196.29 140.36 L196.61 140.37 L196.93 140.38 L197.25 140.38 L197.57 140.39 L197.89 140.40 L198.20 140.41 L198.52 140.42 L198.84 140.43 L199.16 140.43 L199.48 140.44 L199.79 140.45 L200.11 140.46 L200.43 140.47 L200.75 140.48 L201.07 140.49 L201.39 140.50 L201.70 140.51 L202.02 140.52 L202.34 140.53 L202.66 140.54 L202.98 140.55 L203.29 140.56 L203.61 140.57 L203.93 140.58 L204.25 140.59 L204.57 140.60 L204.88 140.61 L205.20 140.62 L205.52 140.63 L205.84 140.64 L206.16 140.65 L206.47 140.66 L206.79 140.67 L207.11 140.69 L207.43 140.70 L207.75 140.71 L208.07 140.72 L208.38 140.73 L208.70 140.75 L209.02 140.76 L209.34 140.77 L209.66 140.78 L209.97 140.80 L210.29 140.81 L210.61 140.82 L210.93 140.84 L211.25 140.85 L211.56 140.86 L211.88 140.88 L212.20 140.89 L212.52 140.91 L212.84 140.92 L213.16 140.94 L213.47 140.95 L213.79 140.97 L214.11 140.98 L214.43 141.00 L214.75 141.01 L215.06 141.03 L215.38 141.04 L215.70 141.06 L216.02 141.08 L216.34 141.09 L216.65 141.11 L216.97 141.13 L217.29 141.15 L217.61 141.16 L217.93 141.18 L218.25 141.20 L218.56 141.22 L218.88 141.24 L219.20 141.26 L219.52 141.28 L219.84 141.30 L220.15 141.32 L220.47 141.34 L220.79 141.36 L221.11 141.38 L221.43 141.40 L221.74 141.42 L222.06 141.45 L222.38 141.47 L222.70 141.49 L223.02 141.52 L223.34 141.54 L223.65 141.56 L223.97 141.59 L224.29 141.61 L224.61 141.64 L224.93 141.66 L225.24 141.69 L225.56 141.72 L225.88 141.74 L226.20 141.77 L226.52 141.80 L226.83 141.83 L227.15 141.85 L227.47 141.88 L227.79 141.91 L228.11 141.94 L228.43 141.97 L228.74 142.01 L229.06 142.04 L229.38 142.07 L229.70 142.10 L230.02 142.14 L230.33 142.17 L230.65 142.21 L230.97 142.24 L231.29 142.28 L231.61 142.31 L231.92 142.35 L232.24 142.39 L232.56 142.43 L232.88 142.47 L233.20 142.51 L233.52 142.55 L233.83 142.59 L234.15 142.63 L234.47 142.68 L234.79 142.72 L235.11 142.77 L235.42 142.81 L235.74 142.86 L236.06 142.91 L236.38 142.96 L236.70 143.01 L237.01 143.06 L237.33 143.11 L237.65 143.16 L237.97 143.22 L238.29 143.27 L238.61 143.33 L238.92 143.39 L239.24 143.45 L239.56 143.51 L239.88 143.57 L240.20 143.63 L240.51 143.70 L240.83 143.76 L241.15 143.83 L241.47 143.90 L241.79 143.97 L242.10 144.04 L242.42 144.12 L242.74 144.19 L243.06 144.27 L243.38 144.35 L243.70 144.43 L244.01 144.51 L244.33 144.60 L244.65 144.69 L244.97 144.78 L245.29 144.87 L245.60 144.96 L245.92 145.06 L246.24 145.16 L246.56 145.26 L246.88 145.36 L247.19 145.47 L247.51 145.58 L247.83 145.69 L248.15 145.80 L248.47 145.92 L248.79 146.04 L249.10 146.17 L249.42 146.30 L249.74 146.43 L250.06 146.57 L250.38 146.70 L250.69 146.85 L251.01 147.00 L251.33 147.15 L251.65 147.30 L251.97 147.46 L252.28 147.63 L252.60 147.80 L252.92 147.98 L253.24 148.16 L253.56 148.34 L253.88 148.54 L254.19 148.74 L254.51 148.94 L254.83 149.15 L255.15 149.37 L255.47 149.60 L255.78 149.83 L256.10 150.07 L256.42 150.32 L256.74 150.58 L257.06 150.84 L257.38 151.12 L257.69 151.40 L258.01 151.70 L258.33 152.00 L258.65 152.32 L258.97 152.64 L259.28 152.98 L259.60 153.34 L259.92 153.70 L260.24 154.08 L260.56 154.47 L260.87 154.88 L261.19 155.31 L261.51 155.75 L261.83 156.21 L262.15 156.68 L262.47 157.18 L262.78 157.70 L263.10 158.23 L263.42 158.79 L263.74 159.38 L264.06 159.99 L264.37 160.62 L264.69 161.28 L265.01 161.97 L265.33 162.70 L265.65 163.45 L265.96 164.24 L266.28 165.07 L266.60 165.93 L266.92 166.84 L267.24 167.78 L267.56 168.78 L267.87 169.82 L268.19 170.91 L268.51 172.06 L268.83 173.26 L269.15 174.53 L269.46 175.86 L269.78 177.26 L270.10 178.74 L270.42 180.29 L270.74 181.93 L271.05 183.67 L271.37 185.49 L271.69 187.43 L272.01 189.47 L272.33 191.64 L272.64 193.94 L272.96 196.37 L273.28 198.96 L273.60 201.72 L273.92 204.65 L274.24 207.78 L274.55 211.12 L274.87 214.70 L275.19 218.53 L275.51 222.63 L275.83 227.04 L276.14 231.77 L276.46 236.86 L276.78 242.32 L277.10 248.16 L277.42 254.37 L277.74 260.86 L278.05 267.48 L278.37 273.90 L278.69 279.58 L279.01 283.77 L279.33 285.68 L279.64 285.55 L279.96 284.46 L280.28 282.24 L280.60 278.92 L280.92 274.72 L281.23 269.90 L281.55 264.71 L281.87 259.38 L282.19 254.04 L282.51 248.82 L282.83 243.76 L283.14 238.91 L283.46 234.28 L283.78 229.88 L284.10 225.71 L284.42 221.76 L284.73 218.02 L285.05 214.48 L285.37 211.14 L285.69 207.97 L286.01 204.97 L286.32 202.14 L286.64 199.45 L286.96 196.91 L287.28 194.50 L287.60 192.21 L287.92 190.04 L288.23 187.99 L288.55 186.04 L288.87 184.19 L289.19 182.43 L289.51 180.76 L289.82 179.18 L290.14 177.67 L290.46 176.24 L290.78 174.88 L291.10 173.58 L291.41 172.35 L291.73 171.18 L292.05 170.07 L292.37 169.01 L292.69 168.00 L293.00 167.04 L293.32 166.13 L293.64 165.26 L293.96 164.43 L294.28 163.64 L294.60 162.89 L294.91 162.17 L295.23 161.49 L295.55 160.84 L295.87 160.22 L296.19 159.63 L296.50 159.07 L296.82 158.54 L297.14 158.03 L297.46 157.54 L297.78 157.08 L298.10 156.64 L298.41 156.22 L298.73 155.82 L299.05 155.44 L299.37 155.08 L299.69 154.74 L300.00 154.41 L300.32 154.10 L300.64 153.81 L300.96 153.53 L301.28 153.26 L301.59 153.01 L301.91 152.78 L302.23 152.55 L302.55 152.34 L302.87 152.14 L303.19 151.96 L303.50 151.78 L303.82 151.62 L304.14 151.47 L304.46 151.33 L304.78 151.20 L305.09 151.08 L305.41 150.97 L305.73 150.86 L306.05 150.77 L306.37 150.69 L306.68 150.62 L307.00 150.56 L307.32 150.51 L307.64 150.47 L307.96 150.44 L308.28 150.41 L308.59 150.40 L308.91 150.39 L309.23 150.40 L309.55 150.41 L309.87 150.44 L310.18 150.47 L310.50 150.52 L310.82 150.57 L311.14 150.64 L311.46 150.72 L311.77 150.80 L312.09 150.90 L312.41 151.01 L312.73 151.14 L313.05 151.27 L313.36 151.42 L313.68 151.58 L314.00 151.76 L314.32 151.95 L314.64 152.15 L314.96 152.37 L315.27 152.61 L315.59 152.87 L315.91 153.14 L316.23 153.43 L316.55 153.74 L316.86 154.07 L317.18 154.42 L317.50 154.80 L317.82 155.20 L318.14 155.62 L318.46 156.08 L318.77 156.56 L319.09 157.06 L319.41 157.60 L319.73 158.18 L320.05 158.78 L320.36 159.42 L320.68 160.10 L321.00 160.82" fill="none" stroke="#f02020" stroke-width="1.35"/>
</g>
<defs><clipPath id="clip"><rect x="66.5" y="120" width="254.5" height="186"/></clipPath></defs>
<rect x="66.5" y="120" width="254.5" height="186" fill="none" stroke="#555" stroke-width="1.2"/>
<path d="M98.31 306.00V303.80 M98.31 120.00V122.20 M130.12 306.00V302.50 M130.12 120.00V123.50 M161.94 306.00V303.80 M161.94 120.00V122.20 M193.75 306.00V302.50 M193.75 120.00V123.50 M225.56 306.00V303.80 M225.56 120.00V122.20 M257.38 306.00V302.50 M257.38 120.00V123.50 M289.19 306.00V303.80 M289.19 120.00V122.20 M66.50 138.30H70.00 M321.00 138.30H317.50 M66.50 156.95H68.70 M321.00 156.95H318.80 M66.50 175.60H70.00 M321.00 175.60H317.50 M66.50 194.25H68.70 M321.00 194.25H318.80 M66.50 212.90H70.00 M321.00 212.90H317.50 M66.50 231.55H68.70 M321.00 231.55H318.80 M66.50 250.20H70.00 M321.00 250.20H317.50 M66.50 268.85H68.70 M321.00 268.85H318.80 M66.50 287.50H70.00 M321.00 287.50H317.50" stroke="#555" stroke-width="1" fill="none"/>
<g font-family="Liberation Serif" font-size="11" fill="#222" text-anchor="end">
<text transform="translate(62.8 141.85) scale(1 1.1)">0</text>
<text transform="translate(62.8 179.15) scale(1 1.1)">-5</text>
<text transform="translate(62.8 216.45) scale(1 1.1)">-10</text>
<text transform="translate(62.8 253.75) scale(1 1.1)">-15</text>
<text transform="translate(62.8 291.05) scale(1 1.1)">-20</text>
</g>
<g font-family="Liberation Serif" font-size="11" fill="#222" text-anchor="middle">
<text transform="translate(66.50 319.1) scale(1 1.1)">4.0</text>
<text transform="translate(130.12 319.1) scale(1 1.1)">4.5</text>
<text transform="translate(193.75 319.1) scale(1 1.1)">5.0</text>
<text transform="translate(257.38 319.1) scale(1 1.1)">5.5</text>
<text transform="translate(321.00 319.1) scale(1 1.1)">6.0</text>
</g>
<text x="194" y="333.2" font-family="Liberation Serif" font-size="13.1" font-weight="bold" text-anchor="middle">Frequency (GHz)</text>
<g transform="translate(33.3 217.6) rotate(-90)">
<text x="0" y="0" font-family="Liberation Serif" font-size="13.4" font-weight="bold" text-anchor="middle">|<tspan font-style="italic">S</tspan><tspan font-size="7.5" dy="3.2">11</tspan><tspan dy="-3.2">| (dB)</tspan></text>
</g>
<!-- legend -->
<g font-family="Liberation Serif" font-size="11" fill="#2a2a2a">
<text x="72.6" y="211.1">Simulation</text>
<text x="139" y="211.1">Experiment</text>
<g text-anchor="end">
<text x="133.7" y="221.1">0 V</text>
<text x="133.7" y="234.2">2 V</text>
<text x="133.7" y="246.5">4 V</text>
<text x="133.7" y="259.1">6 V</text>
<text x="133.7" y="271.5">12 V</text>
</g>
</g>
<path d="M80.3 218.3H104" stroke="#8c8c8c" stroke-width="1.35" stroke-dasharray="4.8 4.7"/>
<path d="M150.2 218.7H173.2" stroke="#8c8c8c" stroke-width="1.4"/>
<path d="M80.3 231.3H104" stroke="#c048b8" stroke-width="1.35" stroke-dasharray="4.8 4.7"/>
<path d="M150.2 231.2H173.2" stroke="#c048b8" stroke-width="1.4"/>
<path d="M80.3 243.7H104" stroke="#3050c0" stroke-width="1.35" stroke-dasharray="4.8 4.7"/>
<path d="M150.2 243.7H173.2" stroke="#3050c0" stroke-width="1.4"/>
<path d="M80.3 255.8H104" stroke="#108040" stroke-width="1.35" stroke-dasharray="4.8 4.7"/>
<path d="M150.2 256.0H173.2" stroke="#108040" stroke-width="1.4"/>
<path d="M80.3 268.1H104" stroke="#f02020" stroke-width="1.35" stroke-dasharray="4.8 4.7"/>
<path d="M150.2 268.3H173.2" stroke="#f02020" stroke-width="1.4"/>
</svg>
</body></html>
